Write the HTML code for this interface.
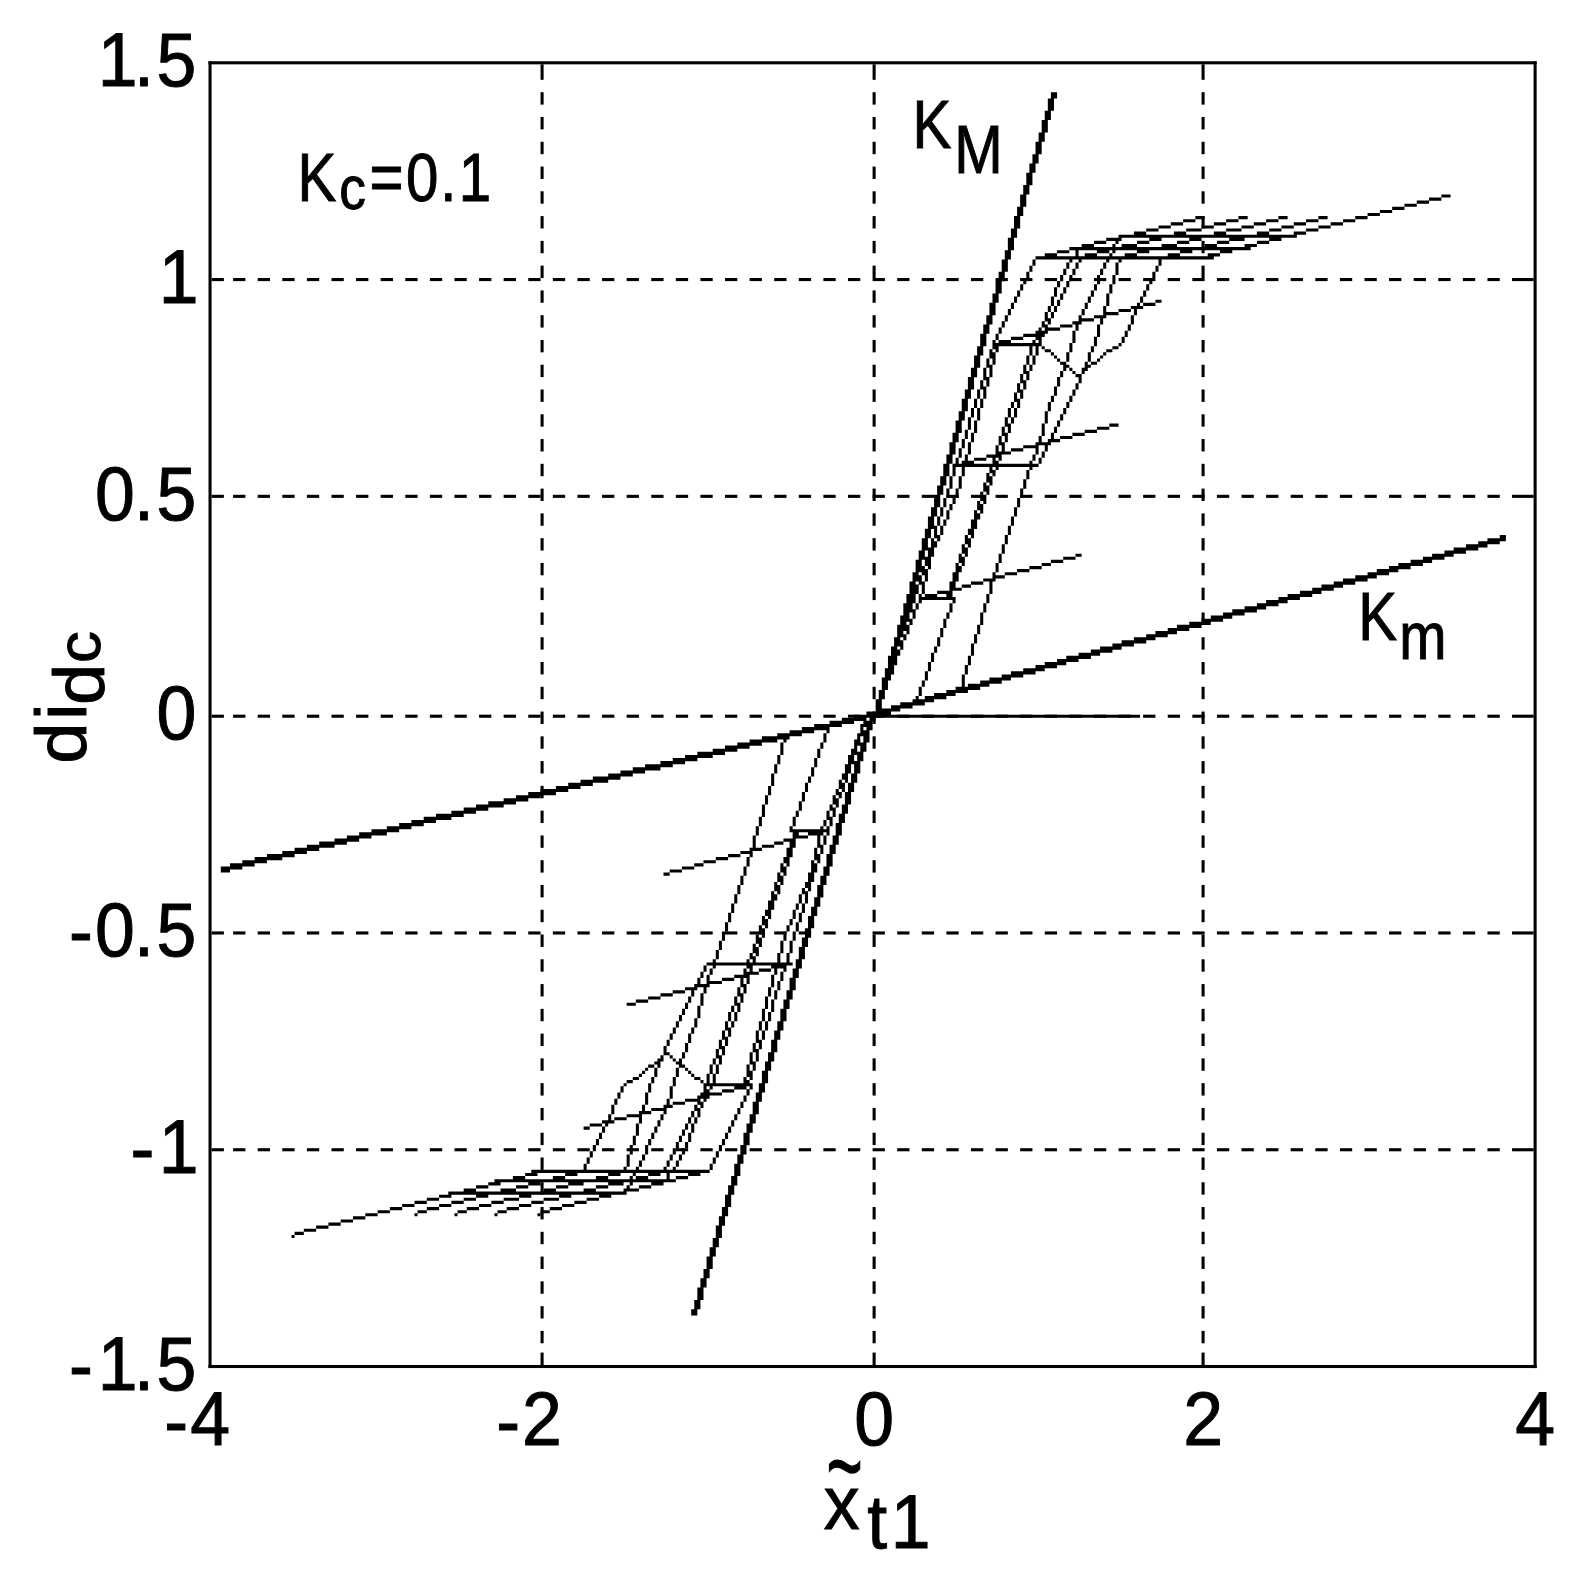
<!DOCTYPE html>
<html><head><meta charset="utf-8"><title></title>
<style>
html,body{margin:0;padding:0;background:#fff;}
svg{display:block;}
text{font-family:"Liberation Sans",sans-serif;fill:#000;stroke:#000;stroke-width:1px;}
</style></head><body>
<svg width="1581" height="1580" viewBox="0 0 1581 1580">
<rect x="0" y="0" width="1581" height="1580" fill="#fff"/>

<g id="plot">
<g id="grid" fill="#000" stroke="none">
<rect x="540.55" y="64.35" width="3.07" height="15.48"/>
<rect x="540.55" y="92.22" width="3.07" height="12.39"/>
<rect x="540.55" y="116.99" width="3.07" height="12.39"/>
<rect x="540.55" y="141.77" width="3.07" height="12.39"/>
<rect x="540.55" y="166.54" width="3.07" height="12.39"/>
<rect x="540.55" y="191.31" width="3.07" height="12.39"/>
<rect x="540.55" y="216.09" width="3.07" height="12.39"/>
<rect x="540.55" y="240.86" width="3.07" height="12.39"/>
<rect x="540.55" y="265.63" width="3.07" height="12.39"/>
<rect x="540.55" y="290.41" width="3.07" height="12.39"/>
<rect x="540.55" y="315.18" width="3.07" height="12.39"/>
<rect x="540.55" y="339.95" width="3.07" height="12.39"/>
<rect x="540.55" y="364.73" width="3.07" height="12.39"/>
<rect x="540.55" y="389.50" width="3.07" height="12.39"/>
<rect x="540.55" y="414.28" width="3.07" height="12.39"/>
<rect x="540.55" y="439.05" width="3.07" height="12.39"/>
<rect x="540.55" y="463.82" width="3.07" height="12.39"/>
<rect x="540.55" y="488.60" width="3.07" height="12.39"/>
<rect x="540.55" y="513.37" width="3.07" height="12.39"/>
<rect x="540.55" y="538.14" width="3.07" height="12.39"/>
<rect x="540.55" y="562.92" width="3.07" height="12.39"/>
<rect x="540.55" y="587.69" width="3.07" height="12.39"/>
<rect x="540.55" y="612.46" width="3.07" height="12.39"/>
<rect x="540.55" y="637.24" width="3.07" height="12.39"/>
<rect x="540.55" y="662.01" width="3.07" height="12.39"/>
<rect x="540.55" y="686.79" width="3.07" height="12.39"/>
<rect x="540.55" y="711.56" width="3.07" height="12.39"/>
<rect x="540.55" y="736.33" width="3.07" height="12.39"/>
<rect x="540.55" y="761.11" width="3.07" height="12.39"/>
<rect x="540.55" y="785.88" width="3.07" height="12.39"/>
<rect x="540.55" y="810.65" width="3.07" height="12.39"/>
<rect x="540.55" y="835.43" width="3.07" height="12.39"/>
<rect x="540.55" y="860.20" width="3.07" height="12.39"/>
<rect x="540.55" y="884.97" width="3.07" height="12.39"/>
<rect x="540.55" y="909.75" width="3.07" height="12.39"/>
<rect x="540.55" y="934.52" width="3.07" height="12.39"/>
<rect x="540.55" y="959.29" width="3.07" height="12.39"/>
<rect x="540.55" y="984.07" width="3.07" height="12.39"/>
<rect x="540.55" y="1008.84" width="3.07" height="12.39"/>
<rect x="540.55" y="1033.62" width="3.07" height="12.39"/>
<rect x="540.55" y="1058.39" width="3.07" height="12.39"/>
<rect x="540.55" y="1083.16" width="3.07" height="12.39"/>
<rect x="540.55" y="1107.94" width="3.07" height="12.39"/>
<rect x="540.55" y="1132.71" width="3.07" height="12.39"/>
<rect x="540.55" y="1157.48" width="3.07" height="12.39"/>
<rect x="540.55" y="1182.26" width="3.07" height="12.39"/>
<rect x="540.55" y="1207.03" width="3.07" height="12.39"/>
<rect x="540.55" y="1231.80" width="3.07" height="12.39"/>
<rect x="540.55" y="1256.58" width="3.07" height="12.39"/>
<rect x="540.55" y="1281.35" width="3.07" height="12.39"/>
<rect x="540.55" y="1306.13" width="3.07" height="12.39"/>
<rect x="540.55" y="1330.90" width="3.07" height="12.39"/>
<rect x="540.55" y="1352.58" width="3.07" height="12.39"/>
<rect x="872.58" y="64.35" width="3.07" height="15.48"/>
<rect x="872.58" y="92.22" width="3.07" height="12.39"/>
<rect x="872.58" y="116.99" width="3.07" height="12.39"/>
<rect x="872.58" y="141.77" width="3.07" height="12.39"/>
<rect x="872.58" y="166.54" width="3.07" height="12.39"/>
<rect x="872.58" y="191.31" width="3.07" height="12.39"/>
<rect x="872.58" y="216.09" width="3.07" height="12.39"/>
<rect x="872.58" y="240.86" width="3.07" height="12.39"/>
<rect x="872.58" y="265.63" width="3.07" height="12.39"/>
<rect x="872.58" y="290.41" width="3.07" height="12.39"/>
<rect x="872.58" y="315.18" width="3.07" height="12.39"/>
<rect x="872.58" y="339.95" width="3.07" height="12.39"/>
<rect x="872.58" y="364.73" width="3.07" height="12.39"/>
<rect x="872.58" y="389.50" width="3.07" height="12.39"/>
<rect x="872.58" y="414.28" width="3.07" height="12.39"/>
<rect x="872.58" y="439.05" width="3.07" height="12.39"/>
<rect x="872.58" y="463.82" width="3.07" height="12.39"/>
<rect x="872.58" y="488.60" width="3.07" height="12.39"/>
<rect x="872.58" y="513.37" width="3.07" height="12.39"/>
<rect x="872.58" y="538.14" width="3.07" height="12.39"/>
<rect x="872.58" y="562.92" width="3.07" height="12.39"/>
<rect x="872.58" y="587.69" width="3.07" height="12.39"/>
<rect x="872.58" y="612.46" width="3.07" height="12.39"/>
<rect x="872.58" y="637.24" width="3.07" height="12.39"/>
<rect x="872.58" y="662.01" width="3.07" height="12.39"/>
<rect x="872.58" y="686.79" width="3.07" height="12.39"/>
<rect x="872.58" y="711.56" width="3.07" height="12.39"/>
<rect x="872.58" y="736.33" width="3.07" height="12.39"/>
<rect x="872.58" y="761.11" width="3.07" height="12.39"/>
<rect x="872.58" y="785.88" width="3.07" height="12.39"/>
<rect x="872.58" y="810.65" width="3.07" height="12.39"/>
<rect x="872.58" y="835.43" width="3.07" height="12.39"/>
<rect x="872.58" y="860.20" width="3.07" height="12.39"/>
<rect x="872.58" y="884.97" width="3.07" height="12.39"/>
<rect x="872.58" y="909.75" width="3.07" height="12.39"/>
<rect x="872.58" y="934.52" width="3.07" height="12.39"/>
<rect x="872.58" y="959.29" width="3.07" height="12.39"/>
<rect x="872.58" y="984.07" width="3.07" height="12.39"/>
<rect x="872.58" y="1008.84" width="3.07" height="12.39"/>
<rect x="872.58" y="1033.62" width="3.07" height="12.39"/>
<rect x="872.58" y="1058.39" width="3.07" height="12.39"/>
<rect x="872.58" y="1083.16" width="3.07" height="12.39"/>
<rect x="872.58" y="1107.94" width="3.07" height="12.39"/>
<rect x="872.58" y="1132.71" width="3.07" height="12.39"/>
<rect x="872.58" y="1157.48" width="3.07" height="12.39"/>
<rect x="872.58" y="1182.26" width="3.07" height="12.39"/>
<rect x="872.58" y="1207.03" width="3.07" height="12.39"/>
<rect x="872.58" y="1231.80" width="3.07" height="12.39"/>
<rect x="872.58" y="1256.58" width="3.07" height="12.39"/>
<rect x="872.58" y="1281.35" width="3.07" height="12.39"/>
<rect x="872.58" y="1306.13" width="3.07" height="12.39"/>
<rect x="872.58" y="1330.90" width="3.07" height="12.39"/>
<rect x="872.58" y="1352.58" width="3.07" height="12.39"/>
<rect x="1201.54" y="64.35" width="3.07" height="15.48"/>
<rect x="1201.54" y="92.22" width="3.07" height="12.39"/>
<rect x="1201.54" y="116.99" width="3.07" height="12.39"/>
<rect x="1201.54" y="141.77" width="3.07" height="12.39"/>
<rect x="1201.54" y="166.54" width="3.07" height="12.39"/>
<rect x="1201.54" y="191.31" width="3.07" height="12.39"/>
<rect x="1201.54" y="216.09" width="3.07" height="12.39"/>
<rect x="1201.54" y="240.86" width="3.07" height="12.39"/>
<rect x="1201.54" y="265.63" width="3.07" height="12.39"/>
<rect x="1201.54" y="290.41" width="3.07" height="12.39"/>
<rect x="1201.54" y="315.18" width="3.07" height="12.39"/>
<rect x="1201.54" y="339.95" width="3.07" height="12.39"/>
<rect x="1201.54" y="364.73" width="3.07" height="12.39"/>
<rect x="1201.54" y="389.50" width="3.07" height="12.39"/>
<rect x="1201.54" y="414.28" width="3.07" height="12.39"/>
<rect x="1201.54" y="439.05" width="3.07" height="12.39"/>
<rect x="1201.54" y="463.82" width="3.07" height="12.39"/>
<rect x="1201.54" y="488.60" width="3.07" height="12.39"/>
<rect x="1201.54" y="513.37" width="3.07" height="12.39"/>
<rect x="1201.54" y="538.14" width="3.07" height="12.39"/>
<rect x="1201.54" y="562.92" width="3.07" height="12.39"/>
<rect x="1201.54" y="587.69" width="3.07" height="12.39"/>
<rect x="1201.54" y="612.46" width="3.07" height="12.39"/>
<rect x="1201.54" y="637.24" width="3.07" height="12.39"/>
<rect x="1201.54" y="662.01" width="3.07" height="12.39"/>
<rect x="1201.54" y="686.79" width="3.07" height="12.39"/>
<rect x="1201.54" y="711.56" width="3.07" height="12.39"/>
<rect x="1201.54" y="736.33" width="3.07" height="12.39"/>
<rect x="1201.54" y="761.11" width="3.07" height="12.39"/>
<rect x="1201.54" y="785.88" width="3.07" height="12.39"/>
<rect x="1201.54" y="810.65" width="3.07" height="12.39"/>
<rect x="1201.54" y="835.43" width="3.07" height="12.39"/>
<rect x="1201.54" y="860.20" width="3.07" height="12.39"/>
<rect x="1201.54" y="884.97" width="3.07" height="12.39"/>
<rect x="1201.54" y="909.75" width="3.07" height="12.39"/>
<rect x="1201.54" y="934.52" width="3.07" height="12.39"/>
<rect x="1201.54" y="959.29" width="3.07" height="12.39"/>
<rect x="1201.54" y="984.07" width="3.07" height="12.39"/>
<rect x="1201.54" y="1008.84" width="3.07" height="12.39"/>
<rect x="1201.54" y="1033.62" width="3.07" height="12.39"/>
<rect x="1201.54" y="1058.39" width="3.07" height="12.39"/>
<rect x="1201.54" y="1083.16" width="3.07" height="12.39"/>
<rect x="1201.54" y="1107.94" width="3.07" height="12.39"/>
<rect x="1201.54" y="1132.71" width="3.07" height="12.39"/>
<rect x="1201.54" y="1157.48" width="3.07" height="12.39"/>
<rect x="1201.54" y="1182.26" width="3.07" height="12.39"/>
<rect x="1201.54" y="1207.03" width="3.07" height="12.39"/>
<rect x="1201.54" y="1231.80" width="3.07" height="12.39"/>
<rect x="1201.54" y="1256.58" width="3.07" height="12.39"/>
<rect x="1201.54" y="1281.35" width="3.07" height="12.39"/>
<rect x="1201.54" y="1306.13" width="3.07" height="12.39"/>
<rect x="1201.54" y="1330.90" width="3.07" height="12.39"/>
<rect x="1201.54" y="1352.58" width="3.07" height="12.39"/>
<rect x="211.59" y="278.02" width="12.30" height="3.10"/>
<rect x="233.11" y="278.02" width="12.30" height="3.10"/>
<rect x="257.70" y="278.02" width="12.30" height="3.10"/>
<rect x="282.30" y="278.02" width="12.30" height="3.10"/>
<rect x="306.89" y="278.02" width="12.30" height="3.10"/>
<rect x="331.49" y="278.02" width="12.30" height="3.10"/>
<rect x="356.08" y="278.02" width="12.30" height="3.10"/>
<rect x="380.68" y="278.02" width="12.30" height="3.10"/>
<rect x="405.27" y="278.02" width="12.30" height="3.10"/>
<rect x="429.87" y="278.02" width="12.30" height="3.10"/>
<rect x="454.46" y="278.02" width="12.30" height="3.10"/>
<rect x="479.06" y="278.02" width="12.30" height="3.10"/>
<rect x="503.66" y="278.02" width="12.30" height="3.10"/>
<rect x="528.25" y="278.02" width="12.30" height="3.10"/>
<rect x="552.85" y="278.02" width="12.30" height="3.10"/>
<rect x="577.44" y="278.02" width="12.30" height="3.10"/>
<rect x="602.04" y="278.02" width="12.30" height="3.10"/>
<rect x="626.63" y="278.02" width="12.30" height="3.10"/>
<rect x="651.23" y="278.02" width="12.30" height="3.10"/>
<rect x="675.82" y="278.02" width="12.30" height="3.10"/>
<rect x="700.42" y="278.02" width="12.30" height="3.10"/>
<rect x="725.01" y="278.02" width="12.30" height="3.10"/>
<rect x="749.61" y="278.02" width="12.30" height="3.10"/>
<rect x="774.20" y="278.02" width="12.30" height="3.10"/>
<rect x="798.80" y="278.02" width="12.30" height="3.10"/>
<rect x="823.39" y="278.02" width="12.30" height="3.10"/>
<rect x="847.99" y="278.02" width="12.30" height="3.10"/>
<rect x="872.58" y="278.02" width="12.30" height="3.10"/>
<rect x="897.18" y="278.02" width="12.30" height="3.10"/>
<rect x="921.77" y="278.02" width="12.30" height="3.10"/>
<rect x="946.37" y="278.02" width="12.30" height="3.10"/>
<rect x="970.96" y="278.02" width="12.30" height="3.10"/>
<rect x="995.56" y="278.02" width="12.30" height="3.10"/>
<rect x="1020.15" y="278.02" width="12.30" height="3.10"/>
<rect x="1044.75" y="278.02" width="12.30" height="3.10"/>
<rect x="1069.34" y="278.02" width="12.30" height="3.10"/>
<rect x="1093.94" y="278.02" width="12.30" height="3.10"/>
<rect x="1118.54" y="278.02" width="12.30" height="3.10"/>
<rect x="1143.13" y="278.02" width="12.30" height="3.10"/>
<rect x="1167.73" y="278.02" width="12.30" height="3.10"/>
<rect x="1192.32" y="278.02" width="12.30" height="3.10"/>
<rect x="1216.92" y="278.02" width="12.30" height="3.10"/>
<rect x="1241.51" y="278.02" width="12.30" height="3.10"/>
<rect x="1266.11" y="278.02" width="12.30" height="3.10"/>
<rect x="1290.70" y="278.02" width="12.30" height="3.10"/>
<rect x="1315.30" y="278.02" width="12.30" height="3.10"/>
<rect x="1339.89" y="278.02" width="12.30" height="3.10"/>
<rect x="1364.49" y="278.02" width="12.30" height="3.10"/>
<rect x="1389.08" y="278.02" width="12.30" height="3.10"/>
<rect x="1413.68" y="278.02" width="12.30" height="3.10"/>
<rect x="1438.27" y="278.02" width="12.30" height="3.10"/>
<rect x="1462.87" y="278.02" width="12.30" height="3.10"/>
<rect x="1487.46" y="278.02" width="12.30" height="3.10"/>
<rect x="1512.06" y="278.02" width="21.52" height="3.10"/>
<rect x="211.59" y="494.79" width="12.30" height="3.10"/>
<rect x="233.11" y="494.79" width="12.30" height="3.10"/>
<rect x="257.70" y="494.79" width="12.30" height="3.10"/>
<rect x="282.30" y="494.79" width="12.30" height="3.10"/>
<rect x="306.89" y="494.79" width="12.30" height="3.10"/>
<rect x="331.49" y="494.79" width="12.30" height="3.10"/>
<rect x="356.08" y="494.79" width="12.30" height="3.10"/>
<rect x="380.68" y="494.79" width="12.30" height="3.10"/>
<rect x="405.27" y="494.79" width="12.30" height="3.10"/>
<rect x="429.87" y="494.79" width="12.30" height="3.10"/>
<rect x="454.46" y="494.79" width="12.30" height="3.10"/>
<rect x="479.06" y="494.79" width="12.30" height="3.10"/>
<rect x="503.66" y="494.79" width="12.30" height="3.10"/>
<rect x="528.25" y="494.79" width="12.30" height="3.10"/>
<rect x="552.85" y="494.79" width="12.30" height="3.10"/>
<rect x="577.44" y="494.79" width="12.30" height="3.10"/>
<rect x="602.04" y="494.79" width="12.30" height="3.10"/>
<rect x="626.63" y="494.79" width="12.30" height="3.10"/>
<rect x="651.23" y="494.79" width="12.30" height="3.10"/>
<rect x="675.82" y="494.79" width="12.30" height="3.10"/>
<rect x="700.42" y="494.79" width="12.30" height="3.10"/>
<rect x="725.01" y="494.79" width="12.30" height="3.10"/>
<rect x="749.61" y="494.79" width="12.30" height="3.10"/>
<rect x="774.20" y="494.79" width="12.30" height="3.10"/>
<rect x="798.80" y="494.79" width="12.30" height="3.10"/>
<rect x="823.39" y="494.79" width="12.30" height="3.10"/>
<rect x="847.99" y="494.79" width="12.30" height="3.10"/>
<rect x="872.58" y="494.79" width="12.30" height="3.10"/>
<rect x="897.18" y="494.79" width="12.30" height="3.10"/>
<rect x="921.77" y="494.79" width="12.30" height="3.10"/>
<rect x="946.37" y="494.79" width="12.30" height="3.10"/>
<rect x="970.96" y="494.79" width="12.30" height="3.10"/>
<rect x="995.56" y="494.79" width="12.30" height="3.10"/>
<rect x="1020.15" y="494.79" width="12.30" height="3.10"/>
<rect x="1044.75" y="494.79" width="12.30" height="3.10"/>
<rect x="1069.34" y="494.79" width="12.30" height="3.10"/>
<rect x="1093.94" y="494.79" width="12.30" height="3.10"/>
<rect x="1118.54" y="494.79" width="12.30" height="3.10"/>
<rect x="1143.13" y="494.79" width="12.30" height="3.10"/>
<rect x="1167.73" y="494.79" width="12.30" height="3.10"/>
<rect x="1192.32" y="494.79" width="12.30" height="3.10"/>
<rect x="1216.92" y="494.79" width="12.30" height="3.10"/>
<rect x="1241.51" y="494.79" width="12.30" height="3.10"/>
<rect x="1266.11" y="494.79" width="12.30" height="3.10"/>
<rect x="1290.70" y="494.79" width="12.30" height="3.10"/>
<rect x="1315.30" y="494.79" width="12.30" height="3.10"/>
<rect x="1339.89" y="494.79" width="12.30" height="3.10"/>
<rect x="1364.49" y="494.79" width="12.30" height="3.10"/>
<rect x="1389.08" y="494.79" width="12.30" height="3.10"/>
<rect x="1413.68" y="494.79" width="12.30" height="3.10"/>
<rect x="1438.27" y="494.79" width="12.30" height="3.10"/>
<rect x="1462.87" y="494.79" width="12.30" height="3.10"/>
<rect x="1487.46" y="494.79" width="12.30" height="3.10"/>
<rect x="1512.06" y="494.79" width="21.52" height="3.10"/>
<rect x="211.59" y="714.66" width="12.30" height="3.10"/>
<rect x="233.11" y="714.66" width="12.30" height="3.10"/>
<rect x="257.70" y="714.66" width="12.30" height="3.10"/>
<rect x="282.30" y="714.66" width="12.30" height="3.10"/>
<rect x="306.89" y="714.66" width="12.30" height="3.10"/>
<rect x="331.49" y="714.66" width="12.30" height="3.10"/>
<rect x="356.08" y="714.66" width="12.30" height="3.10"/>
<rect x="380.68" y="714.66" width="12.30" height="3.10"/>
<rect x="405.27" y="714.66" width="12.30" height="3.10"/>
<rect x="429.87" y="714.66" width="12.30" height="3.10"/>
<rect x="454.46" y="714.66" width="12.30" height="3.10"/>
<rect x="479.06" y="714.66" width="12.30" height="3.10"/>
<rect x="503.66" y="714.66" width="12.30" height="3.10"/>
<rect x="528.25" y="714.66" width="12.30" height="3.10"/>
<rect x="552.85" y="714.66" width="12.30" height="3.10"/>
<rect x="577.44" y="714.66" width="12.30" height="3.10"/>
<rect x="602.04" y="714.66" width="12.30" height="3.10"/>
<rect x="626.63" y="714.66" width="12.30" height="3.10"/>
<rect x="651.23" y="714.66" width="12.30" height="3.10"/>
<rect x="675.82" y="714.66" width="12.30" height="3.10"/>
<rect x="700.42" y="714.66" width="12.30" height="3.10"/>
<rect x="725.01" y="714.66" width="12.30" height="3.10"/>
<rect x="749.61" y="714.66" width="12.30" height="3.10"/>
<rect x="774.20" y="714.66" width="12.30" height="3.10"/>
<rect x="798.80" y="714.66" width="12.30" height="3.10"/>
<rect x="823.39" y="714.66" width="12.30" height="3.10"/>
<rect x="847.99" y="714.66" width="12.30" height="3.10"/>
<rect x="872.58" y="714.66" width="12.30" height="3.10"/>
<rect x="897.18" y="714.66" width="12.30" height="3.10"/>
<rect x="921.77" y="714.66" width="12.30" height="3.10"/>
<rect x="946.37" y="714.66" width="12.30" height="3.10"/>
<rect x="970.96" y="714.66" width="12.30" height="3.10"/>
<rect x="995.56" y="714.66" width="12.30" height="3.10"/>
<rect x="1020.15" y="714.66" width="12.30" height="3.10"/>
<rect x="1044.75" y="714.66" width="12.30" height="3.10"/>
<rect x="1069.34" y="714.66" width="12.30" height="3.10"/>
<rect x="1093.94" y="714.66" width="12.30" height="3.10"/>
<rect x="1118.54" y="714.66" width="12.30" height="3.10"/>
<rect x="1143.13" y="714.66" width="12.30" height="3.10"/>
<rect x="1167.73" y="714.66" width="12.30" height="3.10"/>
<rect x="1192.32" y="714.66" width="12.30" height="3.10"/>
<rect x="1216.92" y="714.66" width="12.30" height="3.10"/>
<rect x="1241.51" y="714.66" width="12.30" height="3.10"/>
<rect x="1266.11" y="714.66" width="12.30" height="3.10"/>
<rect x="1290.70" y="714.66" width="12.30" height="3.10"/>
<rect x="1315.30" y="714.66" width="12.30" height="3.10"/>
<rect x="1339.89" y="714.66" width="12.30" height="3.10"/>
<rect x="1364.49" y="714.66" width="12.30" height="3.10"/>
<rect x="1389.08" y="714.66" width="12.30" height="3.10"/>
<rect x="1413.68" y="714.66" width="12.30" height="3.10"/>
<rect x="1438.27" y="714.66" width="12.30" height="3.10"/>
<rect x="1462.87" y="714.66" width="12.30" height="3.10"/>
<rect x="1487.46" y="714.66" width="12.30" height="3.10"/>
<rect x="1512.06" y="714.66" width="21.52" height="3.10"/>
<rect x="211.59" y="931.42" width="12.30" height="3.10"/>
<rect x="233.11" y="931.42" width="12.30" height="3.10"/>
<rect x="257.70" y="931.42" width="12.30" height="3.10"/>
<rect x="282.30" y="931.42" width="12.30" height="3.10"/>
<rect x="306.89" y="931.42" width="12.30" height="3.10"/>
<rect x="331.49" y="931.42" width="12.30" height="3.10"/>
<rect x="356.08" y="931.42" width="12.30" height="3.10"/>
<rect x="380.68" y="931.42" width="12.30" height="3.10"/>
<rect x="405.27" y="931.42" width="12.30" height="3.10"/>
<rect x="429.87" y="931.42" width="12.30" height="3.10"/>
<rect x="454.46" y="931.42" width="12.30" height="3.10"/>
<rect x="479.06" y="931.42" width="12.30" height="3.10"/>
<rect x="503.66" y="931.42" width="12.30" height="3.10"/>
<rect x="528.25" y="931.42" width="12.30" height="3.10"/>
<rect x="552.85" y="931.42" width="12.30" height="3.10"/>
<rect x="577.44" y="931.42" width="12.30" height="3.10"/>
<rect x="602.04" y="931.42" width="12.30" height="3.10"/>
<rect x="626.63" y="931.42" width="12.30" height="3.10"/>
<rect x="651.23" y="931.42" width="12.30" height="3.10"/>
<rect x="675.82" y="931.42" width="12.30" height="3.10"/>
<rect x="700.42" y="931.42" width="12.30" height="3.10"/>
<rect x="725.01" y="931.42" width="12.30" height="3.10"/>
<rect x="749.61" y="931.42" width="12.30" height="3.10"/>
<rect x="774.20" y="931.42" width="12.30" height="3.10"/>
<rect x="798.80" y="931.42" width="12.30" height="3.10"/>
<rect x="823.39" y="931.42" width="12.30" height="3.10"/>
<rect x="847.99" y="931.42" width="12.30" height="3.10"/>
<rect x="872.58" y="931.42" width="12.30" height="3.10"/>
<rect x="897.18" y="931.42" width="12.30" height="3.10"/>
<rect x="921.77" y="931.42" width="12.30" height="3.10"/>
<rect x="946.37" y="931.42" width="12.30" height="3.10"/>
<rect x="970.96" y="931.42" width="12.30" height="3.10"/>
<rect x="995.56" y="931.42" width="12.30" height="3.10"/>
<rect x="1020.15" y="931.42" width="12.30" height="3.10"/>
<rect x="1044.75" y="931.42" width="12.30" height="3.10"/>
<rect x="1069.34" y="931.42" width="12.30" height="3.10"/>
<rect x="1093.94" y="931.42" width="12.30" height="3.10"/>
<rect x="1118.54" y="931.42" width="12.30" height="3.10"/>
<rect x="1143.13" y="931.42" width="12.30" height="3.10"/>
<rect x="1167.73" y="931.42" width="12.30" height="3.10"/>
<rect x="1192.32" y="931.42" width="12.30" height="3.10"/>
<rect x="1216.92" y="931.42" width="12.30" height="3.10"/>
<rect x="1241.51" y="931.42" width="12.30" height="3.10"/>
<rect x="1266.11" y="931.42" width="12.30" height="3.10"/>
<rect x="1290.70" y="931.42" width="12.30" height="3.10"/>
<rect x="1315.30" y="931.42" width="12.30" height="3.10"/>
<rect x="1339.89" y="931.42" width="12.30" height="3.10"/>
<rect x="1364.49" y="931.42" width="12.30" height="3.10"/>
<rect x="1389.08" y="931.42" width="12.30" height="3.10"/>
<rect x="1413.68" y="931.42" width="12.30" height="3.10"/>
<rect x="1438.27" y="931.42" width="12.30" height="3.10"/>
<rect x="1462.87" y="931.42" width="12.30" height="3.10"/>
<rect x="1487.46" y="931.42" width="12.30" height="3.10"/>
<rect x="1512.06" y="931.42" width="21.52" height="3.10"/>
<rect x="211.59" y="1148.19" width="12.30" height="3.10"/>
<rect x="233.11" y="1148.19" width="12.30" height="3.10"/>
<rect x="257.70" y="1148.19" width="12.30" height="3.10"/>
<rect x="282.30" y="1148.19" width="12.30" height="3.10"/>
<rect x="306.89" y="1148.19" width="12.30" height="3.10"/>
<rect x="331.49" y="1148.19" width="12.30" height="3.10"/>
<rect x="356.08" y="1148.19" width="12.30" height="3.10"/>
<rect x="380.68" y="1148.19" width="12.30" height="3.10"/>
<rect x="405.27" y="1148.19" width="12.30" height="3.10"/>
<rect x="429.87" y="1148.19" width="12.30" height="3.10"/>
<rect x="454.46" y="1148.19" width="12.30" height="3.10"/>
<rect x="479.06" y="1148.19" width="12.30" height="3.10"/>
<rect x="503.66" y="1148.19" width="12.30" height="3.10"/>
<rect x="528.25" y="1148.19" width="12.30" height="3.10"/>
<rect x="552.85" y="1148.19" width="12.30" height="3.10"/>
<rect x="577.44" y="1148.19" width="12.30" height="3.10"/>
<rect x="602.04" y="1148.19" width="12.30" height="3.10"/>
<rect x="626.63" y="1148.19" width="12.30" height="3.10"/>
<rect x="651.23" y="1148.19" width="12.30" height="3.10"/>
<rect x="675.82" y="1148.19" width="12.30" height="3.10"/>
<rect x="700.42" y="1148.19" width="12.30" height="3.10"/>
<rect x="725.01" y="1148.19" width="12.30" height="3.10"/>
<rect x="749.61" y="1148.19" width="12.30" height="3.10"/>
<rect x="774.20" y="1148.19" width="12.30" height="3.10"/>
<rect x="798.80" y="1148.19" width="12.30" height="3.10"/>
<rect x="823.39" y="1148.19" width="12.30" height="3.10"/>
<rect x="847.99" y="1148.19" width="12.30" height="3.10"/>
<rect x="872.58" y="1148.19" width="12.30" height="3.10"/>
<rect x="897.18" y="1148.19" width="12.30" height="3.10"/>
<rect x="921.77" y="1148.19" width="12.30" height="3.10"/>
<rect x="946.37" y="1148.19" width="12.30" height="3.10"/>
<rect x="970.96" y="1148.19" width="12.30" height="3.10"/>
<rect x="995.56" y="1148.19" width="12.30" height="3.10"/>
<rect x="1020.15" y="1148.19" width="12.30" height="3.10"/>
<rect x="1044.75" y="1148.19" width="12.30" height="3.10"/>
<rect x="1069.34" y="1148.19" width="12.30" height="3.10"/>
<rect x="1093.94" y="1148.19" width="12.30" height="3.10"/>
<rect x="1118.54" y="1148.19" width="12.30" height="3.10"/>
<rect x="1143.13" y="1148.19" width="12.30" height="3.10"/>
<rect x="1167.73" y="1148.19" width="12.30" height="3.10"/>
<rect x="1192.32" y="1148.19" width="12.30" height="3.10"/>
<rect x="1216.92" y="1148.19" width="12.30" height="3.10"/>
<rect x="1241.51" y="1148.19" width="12.30" height="3.10"/>
<rect x="1266.11" y="1148.19" width="12.30" height="3.10"/>
<rect x="1290.70" y="1148.19" width="12.30" height="3.10"/>
<rect x="1315.30" y="1148.19" width="12.30" height="3.10"/>
<rect x="1339.89" y="1148.19" width="12.30" height="3.10"/>
<rect x="1364.49" y="1148.19" width="12.30" height="3.10"/>
<rect x="1389.08" y="1148.19" width="12.30" height="3.10"/>
<rect x="1413.68" y="1148.19" width="12.30" height="3.10"/>
<rect x="1438.27" y="1148.19" width="12.30" height="3.10"/>
<rect x="1462.87" y="1148.19" width="12.30" height="3.10"/>
<rect x="1487.46" y="1148.19" width="12.30" height="3.10"/>
<rect x="1512.06" y="1148.19" width="21.52" height="3.10"/>
</g>
<g id="axes" fill="#000" stroke="none">
<rect x="208.51" y="61.25" width="1328.14" height="3.10"/>
<rect x="208.51" y="1364.96" width="1328.14" height="3.10"/>
<rect x="208.51" y="61.25" width="3.07" height="1306.81"/>
<rect x="1533.58" y="61.25" width="3.07" height="1306.81"/>
</g>
<path id="curves" fill="#000" stroke="none" d="M1050.90 92.22h6.15v3.13h-6.15zM1050.90 95.32h6.15v3.13h-6.15zM1047.82 98.41h6.15v3.13h-6.15zM1047.82 101.51h6.15v3.13h-6.15zM1047.82 104.61h6.15v3.13h-6.15zM1047.82 107.70h6.15v3.13h-6.15zM1044.75 110.80h6.15v3.13h-6.15zM1044.75 113.90h6.15v3.13h-6.15zM1044.75 116.99h6.15v3.13h-6.15zM1041.68 120.09h6.15v3.13h-6.15zM1041.68 123.19h6.15v3.13h-6.15zM1041.68 126.28h6.15v3.13h-6.15zM1041.68 129.38h6.15v3.13h-6.15zM1038.60 132.48h6.15v3.13h-6.15zM1038.60 135.57h6.15v3.13h-6.15zM1038.60 138.67h6.15v3.13h-6.15zM1035.53 141.77h6.15v3.13h-6.15zM1035.53 144.86h6.15v3.13h-6.15zM1035.53 147.96h6.15v3.13h-6.15zM1035.53 151.06h6.15v3.13h-6.15zM1032.45 154.15h6.15v3.13h-6.15zM1032.45 157.25h6.15v3.13h-6.15zM1032.45 160.35h6.15v3.13h-6.15zM1029.38 163.44h6.15v3.13h-6.15zM1029.38 166.54h6.15v3.13h-6.15zM1029.38 169.64h6.15v3.13h-6.15zM1026.30 172.73h6.15v3.13h-6.15zM1026.30 175.83h6.15v3.13h-6.15zM1026.30 178.93h6.15v3.13h-6.15zM1026.30 182.02h6.15v3.13h-6.15zM1023.23 185.12h6.15v3.13h-6.15zM1023.23 188.22h6.15v3.13h-6.15zM1023.23 191.31h6.15v3.13h-6.15zM1020.15 194.41h6.15v3.13h-6.15zM1441.35 194.41h9.22v3.13h-9.22zM1020.15 197.51h6.15v3.13h-6.15zM1429.05 197.51h12.30v3.13h-12.30zM1020.15 200.60h6.15v3.13h-6.15zM1416.75 200.60h12.30v3.13h-12.30zM1020.15 203.70h6.15v3.13h-6.15zM1404.45 203.70h12.30v3.13h-12.30zM1017.08 206.80h6.15v3.13h-6.15zM1392.16 206.80h12.30v3.13h-12.30zM1017.08 209.89h6.15v3.13h-6.15zM1379.86 209.89h12.30v3.13h-12.30zM1017.08 212.99h6.15v3.13h-6.15zM1367.56 212.99h12.30v3.13h-12.30zM1014.01 216.09h6.15v3.13h-6.15zM1195.40 216.09h9.22v3.13h-9.22zM1238.44 216.09h9.22v3.13h-9.22zM1278.40 216.09h9.22v3.13h-9.22zM1318.37 216.09h9.22v3.13h-9.22zM1355.26 216.09h12.30v3.13h-12.30zM1014.01 219.18h6.15v3.13h-6.15zM1183.10 219.18h12.30v3.13h-12.30zM1226.14 219.18h12.30v3.13h-12.30zM1266.11 219.18h12.30v3.13h-12.30zM1306.07 219.18h12.30v3.13h-12.30zM1342.97 219.18h12.30v3.13h-12.30zM1014.01 222.28h6.15v3.13h-6.15zM1170.80 222.28h12.30v3.13h-12.30zM1213.84 222.28h12.30v3.13h-12.30zM1253.81 222.28h12.30v3.13h-12.30zM1293.78 222.28h12.30v3.13h-12.30zM1330.67 222.28h12.30v3.13h-12.30zM1014.01 225.38h6.15v3.13h-6.15zM1158.50 225.38h12.30v3.13h-12.30zM1201.54 225.38h12.30v3.13h-12.30zM1241.51 225.38h12.30v3.13h-12.30zM1281.48 225.38h12.30v3.13h-12.30zM1318.37 225.38h12.30v3.13h-12.30zM1010.93 228.47h6.15v3.13h-6.15zM1146.20 228.47h12.30v3.13h-12.30zM1186.17 228.47h15.37v3.13h-15.37zM1226.14 228.47h15.37v3.13h-15.37zM1269.18 228.47h12.30v3.13h-12.30zM1306.07 228.47h12.30v3.13h-12.30zM1010.93 231.57h6.15v3.13h-6.15zM1133.91 231.57h12.30v3.13h-12.30zM1173.87 231.57h12.30v3.13h-12.30zM1213.84 231.57h12.30v3.13h-12.30zM1256.88 231.57h12.30v3.13h-12.30zM1293.78 231.57h12.30v3.13h-12.30zM1010.93 234.67h6.15v3.13h-6.15zM1118.54 234.67h178.32v3.13h-178.32zM1007.86 237.76h6.15v3.13h-6.15zM1106.24 237.76h15.37v3.13h-15.37zM1149.28 237.76h12.30v3.13h-12.30zM1189.25 237.76h12.30v3.13h-12.30zM1229.21 237.76h15.37v3.13h-15.37zM1269.18 237.76h12.30v3.13h-12.30zM1007.86 240.86h6.15v3.13h-6.15zM1093.94 240.86h12.30v3.13h-12.30zM1115.46 240.86h3.07v3.13h-3.07zM1136.98 240.86h12.30v3.13h-12.30zM1176.95 240.86h12.30v3.13h-12.30zM1216.92 240.86h12.30v3.13h-12.30zM1256.88 240.86h12.30v3.13h-12.30zM1007.86 243.96h6.15v3.13h-6.15zM1081.64 243.96h12.30v3.13h-12.30zM1112.39 243.96h3.07v3.13h-3.07zM1121.61 243.96h15.37v3.13h-15.37zM1161.58 243.96h15.37v3.13h-15.37zM1204.62 243.96h12.30v3.13h-12.30zM1244.59 243.96h12.30v3.13h-12.30zM1007.86 247.05h6.15v3.13h-6.15zM1069.34 247.05h181.39v3.13h-181.39zM1004.78 250.15h6.15v3.13h-6.15zM1057.05 250.15h12.30v3.13h-12.30zM1075.49 250.15h3.07v3.13h-3.07zM1097.01 250.15h12.30v3.13h-12.30zM1112.39 250.15h3.07v3.13h-3.07zM1136.98 250.15h12.30v3.13h-12.30zM1180.02 250.15h12.30v3.13h-12.30zM1219.99 250.15h12.30v3.13h-12.30zM1004.78 253.25h6.15v3.13h-6.15zM1044.75 253.25h12.30v3.13h-12.30zM1075.49 253.25h3.07v3.13h-3.07zM1084.72 253.25h12.30v3.13h-12.30zM1109.31 253.25h3.07v3.13h-3.07zM1124.68 253.25h12.30v3.13h-12.30zM1167.73 253.25h12.30v3.13h-12.30zM1207.69 253.25h12.30v3.13h-12.30zM1004.78 256.34h6.15v3.13h-6.15zM1035.53 256.34h178.32v3.13h-178.32zM1001.71 259.44h6.15v3.13h-6.15zM1032.45 259.44h3.07v3.13h-3.07zM1069.34 259.44h3.07v3.13h-3.07zM1078.57 259.44h3.07v3.13h-3.07zM1106.24 259.44h3.07v3.13h-3.07zM1118.54 259.44h3.07v3.13h-3.07zM1158.50 259.44h3.07v3.13h-3.07zM1001.71 262.54h6.15v3.13h-6.15zM1032.45 262.54h3.07v3.13h-3.07zM1066.27 262.54h3.07v3.13h-3.07zM1075.49 262.54h3.07v3.13h-3.07zM1103.16 262.54h3.07v3.13h-3.07zM1115.46 262.54h3.07v3.13h-3.07zM1158.50 262.54h3.07v3.13h-3.07zM1001.71 265.63h6.15v3.13h-6.15zM1029.38 265.63h3.07v3.13h-3.07zM1066.27 265.63h3.07v3.13h-3.07zM1075.49 265.63h3.07v3.13h-3.07zM1103.16 265.63h3.07v3.13h-3.07zM1115.46 265.63h3.07v3.13h-3.07zM1155.43 265.63h3.07v3.13h-3.07zM1001.71 268.73h6.15v3.13h-6.15zM1029.38 268.73h3.07v3.13h-3.07zM1063.20 268.73h3.07v3.13h-3.07zM1072.42 268.73h3.07v3.13h-3.07zM1100.09 268.73h3.07v3.13h-3.07zM1115.46 268.73h3.07v3.13h-3.07zM1155.43 268.73h3.07v3.13h-3.07zM998.63 271.83h6.15v3.13h-6.15zM1026.30 271.83h3.07v3.13h-3.07zM1063.20 271.83h3.07v3.13h-3.07zM1072.42 271.83h3.07v3.13h-3.07zM1100.09 271.83h3.07v3.13h-3.07zM1115.46 271.83h3.07v3.13h-3.07zM1152.35 271.83h3.07v3.13h-3.07zM998.63 274.92h6.15v3.13h-6.15zM1026.30 274.92h3.07v3.13h-3.07zM1060.12 274.92h3.07v3.13h-3.07zM1069.34 274.92h3.07v3.13h-3.07zM1097.01 274.92h3.07v3.13h-3.07zM1112.39 274.92h3.07v3.13h-3.07zM1152.35 274.92h3.07v3.13h-3.07zM998.63 278.02h6.15v3.13h-6.15zM1023.23 278.02h3.07v3.13h-3.07zM1060.12 278.02h3.07v3.13h-3.07zM1069.34 278.02h3.07v3.13h-3.07zM1097.01 278.02h3.07v3.13h-3.07zM1112.39 278.02h3.07v3.13h-3.07zM1149.28 278.02h3.07v3.13h-3.07zM995.56 281.12h6.15v3.13h-6.15zM1023.23 281.12h3.07v3.13h-3.07zM1057.05 281.12h3.07v3.13h-3.07zM1066.27 281.12h3.07v3.13h-3.07zM1097.01 281.12h3.07v3.13h-3.07zM1112.39 281.12h3.07v3.13h-3.07zM1149.28 281.12h3.07v3.13h-3.07zM995.56 284.21h6.15v3.13h-6.15zM1020.15 284.21h3.07v3.13h-3.07zM1057.05 284.21h3.07v3.13h-3.07zM1066.27 284.21h3.07v3.13h-3.07zM1093.94 284.21h3.07v3.13h-3.07zM1109.31 284.21h3.07v3.13h-3.07zM1146.20 284.21h3.07v3.13h-3.07zM995.56 287.31h6.15v3.13h-6.15zM1020.15 287.31h3.07v3.13h-3.07zM1053.97 287.31h3.07v3.13h-3.07zM1063.20 287.31h3.07v3.13h-3.07zM1093.94 287.31h3.07v3.13h-3.07zM1109.31 287.31h3.07v3.13h-3.07zM1146.20 287.31h3.07v3.13h-3.07zM995.56 290.41h6.15v3.13h-6.15zM1017.08 290.41h3.07v3.13h-3.07zM1053.97 290.41h3.07v3.13h-3.07zM1063.20 290.41h3.07v3.13h-3.07zM1090.87 290.41h3.07v3.13h-3.07zM1109.31 290.41h3.07v3.13h-3.07zM1143.13 290.41h3.07v3.13h-3.07zM992.48 293.50h6.15v3.13h-6.15zM1017.08 293.50h3.07v3.13h-3.07zM1053.97 293.50h3.07v3.13h-3.07zM1060.12 293.50h3.07v3.13h-3.07zM1090.87 293.50h3.07v3.13h-3.07zM1106.24 293.50h3.07v3.13h-3.07zM1143.13 293.50h3.07v3.13h-3.07zM992.48 296.60h6.15v3.13h-6.15zM1014.01 296.60h3.07v3.13h-3.07zM1050.90 296.60h3.07v3.13h-3.07zM1060.12 296.60h3.07v3.13h-3.07zM1087.79 296.60h3.07v3.13h-3.07zM1106.24 296.60h3.07v3.13h-3.07zM1140.06 296.60h3.07v3.13h-3.07zM992.48 299.70h6.15v3.13h-6.15zM1014.01 299.70h3.07v3.13h-3.07zM1050.90 299.70h3.07v3.13h-3.07zM1057.05 299.70h3.07v3.13h-3.07zM1087.79 299.70h3.07v3.13h-3.07zM1106.24 299.70h3.07v3.13h-3.07zM1140.06 299.70h3.07v3.13h-3.07zM1155.43 299.70h6.15v3.13h-6.15zM989.41 302.79h6.15v3.13h-6.15zM1010.93 302.79h3.07v3.13h-3.07zM1050.90 302.79h3.07v3.13h-3.07zM1057.05 302.79h3.07v3.13h-3.07zM1084.72 302.79h3.07v3.13h-3.07zM1106.24 302.79h3.07v3.13h-3.07zM1136.98 302.79h3.07v3.13h-3.07zM1143.13 302.79h12.30v3.13h-12.30zM989.41 305.89h6.15v3.13h-6.15zM1010.93 305.89h3.07v3.13h-3.07zM1047.82 305.89h3.07v3.13h-3.07zM1053.97 305.89h3.07v3.13h-3.07zM1084.72 305.89h3.07v3.13h-3.07zM1103.16 305.89h3.07v3.13h-3.07zM1130.83 305.89h12.30v3.13h-12.30zM989.41 308.99h6.15v3.13h-6.15zM1007.86 308.99h3.07v3.13h-3.07zM1047.82 308.99h3.07v3.13h-3.07zM1053.97 308.99h3.07v3.13h-3.07zM1081.64 308.99h3.07v3.13h-3.07zM1103.16 308.99h3.07v3.13h-3.07zM1118.54 308.99h12.30v3.13h-12.30zM1133.91 308.99h3.07v3.13h-3.07zM989.41 312.08h6.15v3.13h-6.15zM1007.86 312.08h3.07v3.13h-3.07zM1044.75 312.08h3.07v3.13h-3.07zM1050.90 312.08h3.07v3.13h-3.07zM1081.64 312.08h3.07v3.13h-3.07zM1103.16 312.08h15.37v3.13h-15.37zM1133.91 312.08h3.07v3.13h-3.07zM986.34 315.18h6.15v3.13h-6.15zM1004.78 315.18h3.07v3.13h-3.07zM1044.75 315.18h3.07v3.13h-3.07zM1050.90 315.18h3.07v3.13h-3.07zM1078.57 315.18h3.07v3.13h-3.07zM1093.94 315.18h12.30v3.13h-12.30zM1130.83 315.18h3.07v3.13h-3.07zM986.34 318.28h6.15v3.13h-6.15zM1004.78 318.28h3.07v3.13h-3.07zM1044.75 318.28h6.15v3.13h-6.15zM1078.57 318.28h15.37v3.13h-15.37zM1100.09 318.28h3.07v3.13h-3.07zM1130.83 318.28h3.07v3.13h-3.07zM986.34 321.37h6.15v3.13h-6.15zM1001.71 321.37h3.07v3.13h-3.07zM1041.68 321.37h3.07v3.13h-3.07zM1047.82 321.37h3.07v3.13h-3.07zM1072.42 321.37h9.22v3.13h-9.22zM1100.09 321.37h3.07v3.13h-3.07zM1130.83 321.37h3.07v3.13h-3.07zM983.26 324.47h6.15v3.13h-6.15zM1001.71 324.47h3.07v3.13h-3.07zM1041.68 324.47h6.15v3.13h-6.15zM1060.12 324.47h12.30v3.13h-12.30zM1075.49 324.47h3.07v3.13h-3.07zM1097.01 324.47h3.07v3.13h-3.07zM1127.76 324.47h3.07v3.13h-3.07zM983.26 327.57h6.15v3.13h-6.15zM998.63 327.57h3.07v3.13h-3.07zM1038.60 327.57h3.07v3.13h-3.07zM1044.75 327.57h15.37v3.13h-15.37zM1075.49 327.57h3.07v3.13h-3.07zM1097.01 327.57h3.07v3.13h-3.07zM1127.76 327.57h3.07v3.13h-3.07zM983.26 330.66h6.15v3.13h-6.15zM998.63 330.66h3.07v3.13h-3.07zM1035.53 330.66h12.30v3.13h-12.30zM1072.42 330.66h3.07v3.13h-3.07zM1097.01 330.66h3.07v3.13h-3.07zM1124.68 330.66h3.07v3.13h-3.07zM980.19 333.76h6.15v3.13h-6.15zM995.56 333.76h3.07v3.13h-3.07zM1023.23 333.76h21.52v3.13h-21.52zM1072.42 333.76h3.07v3.13h-3.07zM1097.01 333.76h3.07v3.13h-3.07zM1124.68 333.76h3.07v3.13h-3.07zM980.19 336.86h6.15v3.13h-6.15zM995.56 336.86h3.07v3.13h-3.07zM1010.93 336.86h12.30v3.13h-12.30zM1035.53 336.86h6.15v3.13h-6.15zM1072.42 336.86h3.07v3.13h-3.07zM1093.94 336.86h3.07v3.13h-3.07zM1121.61 336.86h3.07v3.13h-3.07zM980.19 339.95h6.15v3.13h-6.15zM992.48 339.95h3.07v3.13h-3.07zM998.63 339.95h12.30v3.13h-12.30zM1032.45 339.95h3.07v3.13h-3.07zM1038.60 339.95h3.07v3.13h-3.07zM1072.42 339.95h3.07v3.13h-3.07zM1093.94 339.95h3.07v3.13h-3.07zM1121.61 339.95h3.07v3.13h-3.07zM980.19 343.05h6.15v3.13h-6.15zM992.48 343.05h49.19v3.13h-49.19zM1069.34 343.05h3.07v3.13h-3.07zM1093.94 343.05h3.07v3.13h-3.07zM1118.54 343.05h3.07v3.13h-3.07zM977.11 346.15h6.15v3.13h-6.15zM992.48 346.15h6.15v3.13h-6.15zM1029.38 346.15h3.07v3.13h-3.07zM1035.53 346.15h3.07v3.13h-3.07zM1041.68 346.15h3.07v3.13h-3.07zM1069.34 346.15h3.07v3.13h-3.07zM1090.87 346.15h3.07v3.13h-3.07zM1112.39 346.15h6.15v3.13h-6.15zM977.11 349.24h6.15v3.13h-6.15zM989.41 349.24h3.07v3.13h-3.07zM995.56 349.24h3.07v3.13h-3.07zM1029.38 349.24h3.07v3.13h-3.07zM1035.53 349.24h3.07v3.13h-3.07zM1044.75 349.24h6.15v3.13h-6.15zM1069.34 349.24h3.07v3.13h-3.07zM1090.87 349.24h3.07v3.13h-3.07zM1106.24 349.24h6.15v3.13h-6.15zM977.11 352.34h6.15v3.13h-6.15zM989.41 352.34h6.15v3.13h-6.15zM1029.38 352.34h3.07v3.13h-3.07zM1035.53 352.34h3.07v3.13h-3.07zM1050.90 352.34h3.07v3.13h-3.07zM1066.27 352.34h3.07v3.13h-3.07zM1087.79 352.34h3.07v3.13h-3.07zM1103.16 352.34h3.07v3.13h-3.07zM974.04 355.44h6.15v3.13h-6.15zM989.41 355.44h6.15v3.13h-6.15zM1026.30 355.44h3.07v3.13h-3.07zM1032.45 355.44h3.07v3.13h-3.07zM1053.97 355.44h3.07v3.13h-3.07zM1066.27 355.44h3.07v3.13h-3.07zM1087.79 355.44h3.07v3.13h-3.07zM1100.09 355.44h3.07v3.13h-3.07zM974.04 358.53h6.15v3.13h-6.15zM986.34 358.53h3.07v3.13h-3.07zM992.48 358.53h3.07v3.13h-3.07zM1026.30 358.53h3.07v3.13h-3.07zM1032.45 358.53h3.07v3.13h-3.07zM1057.05 358.53h3.07v3.13h-3.07zM1066.27 358.53h3.07v3.13h-3.07zM1087.79 358.53h3.07v3.13h-3.07zM1097.01 358.53h3.07v3.13h-3.07zM974.04 361.63h6.15v3.13h-6.15zM986.34 361.63h3.07v3.13h-3.07zM992.48 361.63h3.07v3.13h-3.07zM1026.30 361.63h3.07v3.13h-3.07zM1032.45 361.63h3.07v3.13h-3.07zM1060.12 361.63h6.15v3.13h-6.15zM1084.72 361.63h3.07v3.13h-3.07zM1090.87 361.63h6.15v3.13h-6.15zM974.04 364.73h6.15v3.13h-6.15zM986.34 364.73h6.15v3.13h-6.15zM1023.23 364.73h3.07v3.13h-3.07zM1029.38 364.73h3.07v3.13h-3.07zM1063.20 364.73h6.15v3.13h-6.15zM1084.72 364.73h6.15v3.13h-6.15zM970.96 367.82h6.15v3.13h-6.15zM983.26 367.82h3.07v3.13h-3.07zM989.41 367.82h3.07v3.13h-3.07zM1023.23 367.82h3.07v3.13h-3.07zM1029.38 367.82h3.07v3.13h-3.07zM1063.20 367.82h3.07v3.13h-3.07zM1069.34 367.82h3.07v3.13h-3.07zM1081.64 367.82h6.15v3.13h-6.15zM970.96 370.92h6.15v3.13h-6.15zM983.26 370.92h3.07v3.13h-3.07zM989.41 370.92h3.07v3.13h-3.07zM1023.23 370.92h6.15v3.13h-6.15zM1060.12 370.92h3.07v3.13h-3.07zM1072.42 370.92h3.07v3.13h-3.07zM1081.64 370.92h3.07v3.13h-3.07zM970.96 374.02h6.15v3.13h-6.15zM983.26 374.02h3.07v3.13h-3.07zM989.41 374.02h3.07v3.13h-3.07zM1020.15 374.02h3.07v3.13h-3.07zM1026.30 374.02h3.07v3.13h-3.07zM1060.12 374.02h3.07v3.13h-3.07zM1075.49 374.02h6.15v3.13h-6.15zM967.89 377.12h6.15v3.13h-6.15zM983.26 377.12h6.15v3.13h-6.15zM1020.15 377.12h3.07v3.13h-3.07zM1026.30 377.12h3.07v3.13h-3.07zM1057.05 377.12h3.07v3.13h-3.07zM1078.57 377.12h3.07v3.13h-3.07zM967.89 380.21h6.15v3.13h-6.15zM980.19 380.21h3.07v3.13h-3.07zM986.34 380.21h3.07v3.13h-3.07zM1020.15 380.21h6.15v3.13h-6.15zM1057.05 380.21h3.07v3.13h-3.07zM1078.57 380.21h3.07v3.13h-3.07zM967.89 383.31h6.15v3.13h-6.15zM980.19 383.31h3.07v3.13h-3.07zM986.34 383.31h3.07v3.13h-3.07zM1017.08 383.31h3.07v3.13h-3.07zM1023.23 383.31h3.07v3.13h-3.07zM1057.05 383.31h3.07v3.13h-3.07zM1075.49 383.31h3.07v3.13h-3.07zM967.89 386.41h6.15v3.13h-6.15zM980.19 386.41h6.15v3.13h-6.15zM1017.08 386.41h3.07v3.13h-3.07zM1023.23 386.41h3.07v3.13h-3.07zM1053.97 386.41h3.07v3.13h-3.07zM1075.49 386.41h3.07v3.13h-3.07zM964.82 389.50h6.15v3.13h-6.15zM977.11 389.50h3.07v3.13h-3.07zM983.26 389.50h3.07v3.13h-3.07zM1017.08 389.50h6.15v3.13h-6.15zM1053.97 389.50h3.07v3.13h-3.07zM1072.42 389.50h3.07v3.13h-3.07zM964.82 392.60h6.15v3.13h-6.15zM977.11 392.60h3.07v3.13h-3.07zM983.26 392.60h3.07v3.13h-3.07zM1014.01 392.60h3.07v3.13h-3.07zM1020.15 392.60h3.07v3.13h-3.07zM1053.97 392.60h3.07v3.13h-3.07zM1072.42 392.60h3.07v3.13h-3.07zM964.82 395.70h6.15v3.13h-6.15zM977.11 395.70h3.07v3.13h-3.07zM983.26 395.70h3.07v3.13h-3.07zM1014.01 395.70h3.07v3.13h-3.07zM1020.15 395.70h3.07v3.13h-3.07zM1050.90 395.70h3.07v3.13h-3.07zM1069.34 395.70h3.07v3.13h-3.07zM961.74 398.79h6.15v3.13h-6.15zM974.04 398.79h3.07v3.13h-3.07zM980.19 398.79h3.07v3.13h-3.07zM1014.01 398.79h6.15v3.13h-6.15zM1050.90 398.79h3.07v3.13h-3.07zM1069.34 398.79h3.07v3.13h-3.07zM961.74 401.89h6.15v3.13h-6.15zM974.04 401.89h3.07v3.13h-3.07zM980.19 401.89h3.07v3.13h-3.07zM1010.93 401.89h3.07v3.13h-3.07zM1017.08 401.89h3.07v3.13h-3.07zM1047.82 401.89h3.07v3.13h-3.07zM1066.27 401.89h3.07v3.13h-3.07zM961.74 404.99h6.15v3.13h-6.15zM974.04 404.99h3.07v3.13h-3.07zM980.19 404.99h3.07v3.13h-3.07zM1010.93 404.99h3.07v3.13h-3.07zM1017.08 404.99h3.07v3.13h-3.07zM1047.82 404.99h3.07v3.13h-3.07zM1066.27 404.99h3.07v3.13h-3.07zM961.74 408.08h6.15v3.13h-6.15zM970.96 408.08h3.07v3.13h-3.07zM977.11 408.08h3.07v3.13h-3.07zM1007.86 408.08h3.07v3.13h-3.07zM1014.01 408.08h3.07v3.13h-3.07zM1047.82 408.08h3.07v3.13h-3.07zM1063.20 408.08h3.07v3.13h-3.07zM958.67 411.18h6.15v3.13h-6.15zM970.96 411.18h3.07v3.13h-3.07zM977.11 411.18h3.07v3.13h-3.07zM1007.86 411.18h3.07v3.13h-3.07zM1014.01 411.18h3.07v3.13h-3.07zM1044.75 411.18h3.07v3.13h-3.07zM1063.20 411.18h3.07v3.13h-3.07zM958.67 414.28h6.15v3.13h-6.15zM970.96 414.28h3.07v3.13h-3.07zM977.11 414.28h3.07v3.13h-3.07zM1007.86 414.28h3.07v3.13h-3.07zM1014.01 414.28h3.07v3.13h-3.07zM1044.75 414.28h3.07v3.13h-3.07zM1060.12 414.28h3.07v3.13h-3.07zM958.67 417.37h6.15v3.13h-6.15zM967.89 417.37h3.07v3.13h-3.07zM977.11 417.37h3.07v3.13h-3.07zM1004.78 417.37h3.07v3.13h-3.07zM1010.93 417.37h3.07v3.13h-3.07zM1044.75 417.37h3.07v3.13h-3.07zM1060.12 417.37h3.07v3.13h-3.07zM955.59 420.47h6.15v3.13h-6.15zM967.89 420.47h3.07v3.13h-3.07zM974.04 420.47h3.07v3.13h-3.07zM1004.78 420.47h3.07v3.13h-3.07zM1010.93 420.47h3.07v3.13h-3.07zM1044.75 420.47h3.07v3.13h-3.07zM1057.05 420.47h3.07v3.13h-3.07zM955.59 423.57h6.15v3.13h-6.15zM967.89 423.57h3.07v3.13h-3.07zM974.04 423.57h3.07v3.13h-3.07zM1004.78 423.57h6.15v3.13h-6.15zM1041.68 423.57h3.07v3.13h-3.07zM1057.05 423.57h3.07v3.13h-3.07zM1109.31 423.57h9.22v3.13h-9.22zM955.59 426.66h6.15v3.13h-6.15zM967.89 426.66h3.07v3.13h-3.07zM974.04 426.66h3.07v3.13h-3.07zM1001.71 426.66h3.07v3.13h-3.07zM1007.86 426.66h3.07v3.13h-3.07zM1041.68 426.66h3.07v3.13h-3.07zM1053.97 426.66h3.07v3.13h-3.07zM1097.01 426.66h12.30v3.13h-12.30zM955.59 429.76h6.15v3.13h-6.15zM964.82 429.76h3.07v3.13h-3.07zM974.04 429.76h3.07v3.13h-3.07zM1001.71 429.76h3.07v3.13h-3.07zM1007.86 429.76h3.07v3.13h-3.07zM1041.68 429.76h3.07v3.13h-3.07zM1053.97 429.76h3.07v3.13h-3.07zM1084.72 429.76h12.30v3.13h-12.30zM952.52 432.86h6.15v3.13h-6.15zM964.82 432.86h3.07v3.13h-3.07zM970.96 432.86h3.07v3.13h-3.07zM1001.71 432.86h6.15v3.13h-6.15zM1041.68 432.86h3.07v3.13h-3.07zM1050.90 432.86h3.07v3.13h-3.07zM1072.42 432.86h12.30v3.13h-12.30zM952.52 435.95h6.15v3.13h-6.15zM964.82 435.95h3.07v3.13h-3.07zM970.96 435.95h3.07v3.13h-3.07zM998.63 435.95h3.07v3.13h-3.07zM1004.78 435.95h3.07v3.13h-3.07zM1038.60 435.95h3.07v3.13h-3.07zM1050.90 435.95h3.07v3.13h-3.07zM1060.12 435.95h12.30v3.13h-12.30zM952.52 439.05h6.15v3.13h-6.15zM961.74 439.05h3.07v3.13h-3.07zM970.96 439.05h3.07v3.13h-3.07zM998.63 439.05h3.07v3.13h-3.07zM1004.78 439.05h3.07v3.13h-3.07zM1038.60 439.05h3.07v3.13h-3.07zM1047.82 439.05h12.30v3.13h-12.30zM949.44 442.15h6.15v3.13h-6.15zM961.74 442.15h3.07v3.13h-3.07zM967.89 442.15h3.07v3.13h-3.07zM998.63 442.15h6.15v3.13h-6.15zM1035.53 442.15h15.37v3.13h-15.37zM949.44 445.24h6.15v3.13h-6.15zM961.74 445.24h3.07v3.13h-3.07zM967.89 445.24h3.07v3.13h-3.07zM995.56 445.24h3.07v3.13h-3.07zM1001.71 445.24h3.07v3.13h-3.07zM1023.23 445.24h15.37v3.13h-15.37zM1044.75 445.24h3.07v3.13h-3.07zM949.44 448.34h6.15v3.13h-6.15zM958.67 448.34h3.07v3.13h-3.07zM967.89 448.34h3.07v3.13h-3.07zM995.56 448.34h3.07v3.13h-3.07zM1001.71 448.34h3.07v3.13h-3.07zM1010.93 448.34h12.30v3.13h-12.30zM1035.53 448.34h3.07v3.13h-3.07zM1044.75 448.34h3.07v3.13h-3.07zM949.44 451.44h6.15v3.13h-6.15zM958.67 451.44h3.07v3.13h-3.07zM967.89 451.44h3.07v3.13h-3.07zM995.56 451.44h15.37v3.13h-15.37zM1035.53 451.44h3.07v3.13h-3.07zM1041.68 451.44h3.07v3.13h-3.07zM946.37 454.53h6.15v3.13h-6.15zM958.67 454.53h3.07v3.13h-3.07zM964.82 454.53h3.07v3.13h-3.07zM986.34 454.53h15.37v3.13h-15.37zM1032.45 454.53h3.07v3.13h-3.07zM1041.68 454.53h3.07v3.13h-3.07zM946.37 457.63h6.15v3.13h-6.15zM955.59 457.63h3.07v3.13h-3.07zM964.82 457.63h3.07v3.13h-3.07zM974.04 457.63h12.30v3.13h-12.30zM992.48 457.63h3.07v3.13h-3.07zM998.63 457.63h3.07v3.13h-3.07zM1032.45 457.63h3.07v3.13h-3.07zM1038.60 457.63h3.07v3.13h-3.07zM946.37 460.73h6.15v3.13h-6.15zM955.59 460.73h3.07v3.13h-3.07zM961.74 460.73h12.30v3.13h-12.30zM992.48 460.73h6.15v3.13h-6.15zM1029.38 460.73h3.07v3.13h-3.07zM1038.60 460.73h3.07v3.13h-3.07zM943.29 463.82h6.15v3.13h-6.15zM952.52 463.82h86.08v3.13h-86.08zM943.29 466.92h6.15v3.13h-6.15zM952.52 466.92h3.07v3.13h-3.07zM961.74 466.92h3.07v3.13h-3.07zM989.41 466.92h3.07v3.13h-3.07zM995.56 466.92h3.07v3.13h-3.07zM1029.38 466.92h3.07v3.13h-3.07zM943.29 470.02h6.15v3.13h-6.15zM952.52 470.02h3.07v3.13h-3.07zM961.74 470.02h3.07v3.13h-3.07zM989.41 470.02h6.15v3.13h-6.15zM1026.30 470.02h3.07v3.13h-3.07zM943.29 473.11h6.15v3.13h-6.15zM952.52 473.11h3.07v3.13h-3.07zM961.74 473.11h3.07v3.13h-3.07zM986.34 473.11h3.07v3.13h-3.07zM992.48 473.11h3.07v3.13h-3.07zM1026.30 473.11h3.07v3.13h-3.07zM940.22 476.21h6.15v3.13h-6.15zM949.44 476.21h3.07v3.13h-3.07zM958.67 476.21h3.07v3.13h-3.07zM986.34 476.21h6.15v3.13h-6.15zM1026.30 476.21h3.07v3.13h-3.07zM940.22 479.31h6.15v3.13h-6.15zM949.44 479.31h3.07v3.13h-3.07zM958.67 479.31h3.07v3.13h-3.07zM986.34 479.31h6.15v3.13h-6.15zM1023.23 479.31h3.07v3.13h-3.07zM940.22 482.40h6.15v3.13h-6.15zM949.44 482.40h3.07v3.13h-3.07zM958.67 482.40h3.07v3.13h-3.07zM983.26 482.40h3.07v3.13h-3.07zM989.41 482.40h3.07v3.13h-3.07zM1023.23 482.40h3.07v3.13h-3.07zM937.15 485.50h6.15v3.13h-6.15zM949.44 485.50h3.07v3.13h-3.07zM958.67 485.50h3.07v3.13h-3.07zM983.26 485.50h6.15v3.13h-6.15zM1023.23 485.50h3.07v3.13h-3.07zM937.15 488.60h6.15v3.13h-6.15zM946.37 488.60h3.07v3.13h-3.07zM955.59 488.60h3.07v3.13h-3.07zM983.26 488.60h6.15v3.13h-6.15zM1020.15 488.60h3.07v3.13h-3.07zM937.15 491.69h6.15v3.13h-6.15zM946.37 491.69h3.07v3.13h-3.07zM955.59 491.69h3.07v3.13h-3.07zM980.19 491.69h3.07v3.13h-3.07zM986.34 491.69h3.07v3.13h-3.07zM1020.15 491.69h3.07v3.13h-3.07zM934.07 494.79h6.15v3.13h-6.15zM946.37 494.79h3.07v3.13h-3.07zM955.59 494.79h3.07v3.13h-3.07zM980.19 494.79h6.15v3.13h-6.15zM1020.15 494.79h3.07v3.13h-3.07zM934.07 497.89h6.15v3.13h-6.15zM943.29 497.89h3.07v3.13h-3.07zM952.52 497.89h3.07v3.13h-3.07zM980.19 497.89h6.15v3.13h-6.15zM1017.08 497.89h3.07v3.13h-3.07zM934.07 500.98h6.15v3.13h-6.15zM943.29 500.98h3.07v3.13h-3.07zM952.52 500.98h3.07v3.13h-3.07zM977.11 500.98h3.07v3.13h-3.07zM983.26 500.98h3.07v3.13h-3.07zM1017.08 500.98h3.07v3.13h-3.07zM934.07 504.08h6.15v3.13h-6.15zM943.29 504.08h3.07v3.13h-3.07zM949.44 504.08h3.07v3.13h-3.07zM977.11 504.08h6.15v3.13h-6.15zM1017.08 504.08h3.07v3.13h-3.07zM931.00 507.18h6.15v3.13h-6.15zM940.22 507.18h3.07v3.13h-3.07zM949.44 507.18h3.07v3.13h-3.07zM977.11 507.18h6.15v3.13h-6.15zM1014.01 507.18h3.07v3.13h-3.07zM931.00 510.27h6.15v3.13h-6.15zM940.22 510.27h3.07v3.13h-3.07zM946.37 510.27h3.07v3.13h-3.07zM974.04 510.27h3.07v3.13h-3.07zM980.19 510.27h3.07v3.13h-3.07zM1014.01 510.27h3.07v3.13h-3.07zM931.00 513.37h6.15v3.13h-6.15zM940.22 513.37h3.07v3.13h-3.07zM946.37 513.37h3.07v3.13h-3.07zM974.04 513.37h6.15v3.13h-6.15zM1014.01 513.37h3.07v3.13h-3.07zM927.92 516.47h6.15v3.13h-6.15zM937.15 516.47h3.07v3.13h-3.07zM946.37 516.47h3.07v3.13h-3.07zM974.04 516.47h6.15v3.13h-6.15zM1010.93 516.47h3.07v3.13h-3.07zM927.92 519.56h6.15v3.13h-6.15zM937.15 519.56h3.07v3.13h-3.07zM943.29 519.56h3.07v3.13h-3.07zM970.96 519.56h6.15v3.13h-6.15zM1010.93 519.56h3.07v3.13h-3.07zM927.92 522.66h6.15v3.13h-6.15zM937.15 522.66h3.07v3.13h-3.07zM943.29 522.66h3.07v3.13h-3.07zM970.96 522.66h6.15v3.13h-6.15zM1010.93 522.66h3.07v3.13h-3.07zM927.92 525.76h9.22v3.13h-9.22zM940.22 525.76h3.07v3.13h-3.07zM970.96 525.76h6.15v3.13h-6.15zM1007.86 525.76h3.07v3.13h-3.07zM924.85 528.85h6.15v3.13h-6.15zM934.07 528.85h3.07v3.13h-3.07zM940.22 528.85h3.07v3.13h-3.07zM967.89 528.85h6.15v3.13h-6.15zM1007.86 528.85h3.07v3.13h-3.07zM924.85 531.95h6.15v3.13h-6.15zM934.07 531.95h3.07v3.13h-3.07zM940.22 531.95h3.07v3.13h-3.07zM967.89 531.95h6.15v3.13h-6.15zM1007.86 531.95h3.07v3.13h-3.07zM924.85 535.05h6.15v3.13h-6.15zM934.07 535.05h6.15v3.13h-6.15zM964.82 535.05h3.07v3.13h-3.07zM970.96 535.05h3.07v3.13h-3.07zM1004.78 535.05h3.07v3.13h-3.07zM1499.76 535.05h6.15v3.13h-6.15zM921.77 538.14h6.15v3.13h-6.15zM931.00 538.14h3.07v3.13h-3.07zM937.15 538.14h3.07v3.13h-3.07zM964.82 538.14h6.15v3.13h-6.15zM1004.78 538.14h3.07v3.13h-3.07zM1487.46 538.14h18.45v3.13h-18.45zM921.77 541.24h6.15v3.13h-6.15zM931.00 541.24h6.15v3.13h-6.15zM964.82 541.24h6.15v3.13h-6.15zM1004.78 541.24h3.07v3.13h-3.07zM1478.24 541.24h21.52v3.13h-21.52zM921.77 544.34h6.15v3.13h-6.15zM931.00 544.34h6.15v3.13h-6.15zM961.74 544.34h3.07v3.13h-3.07zM967.89 544.34h3.07v3.13h-3.07zM1001.71 544.34h3.07v3.13h-3.07zM1465.94 544.34h21.52v3.13h-21.52zM921.77 547.43h12.30v3.13h-12.30zM961.74 547.43h6.15v3.13h-6.15zM1001.71 547.43h3.07v3.13h-3.07zM1453.64 547.43h24.60v3.13h-24.60zM918.70 550.53h6.15v3.13h-6.15zM927.92 550.53h6.15v3.13h-6.15zM961.74 550.53h6.15v3.13h-6.15zM1001.71 550.53h3.07v3.13h-3.07zM1444.42 550.53h21.52v3.13h-21.52zM918.70 553.63h6.15v3.13h-6.15zM927.92 553.63h6.15v3.13h-6.15zM958.67 553.63h3.07v3.13h-3.07zM964.82 553.63h3.07v3.13h-3.07zM998.63 553.63h3.07v3.13h-3.07zM1075.49 553.63h6.15v3.13h-6.15zM1432.12 553.63h21.52v3.13h-21.52zM918.70 556.72h12.30v3.13h-12.30zM958.67 556.72h6.15v3.13h-6.15zM998.63 556.72h3.07v3.13h-3.07zM1063.20 556.72h12.30v3.13h-12.30zM1422.90 556.72h21.52v3.13h-21.52zM915.62 559.82h6.15v3.13h-6.15zM924.85 559.82h6.15v3.13h-6.15zM958.67 559.82h6.15v3.13h-6.15zM998.63 559.82h3.07v3.13h-3.07zM1050.90 559.82h12.30v3.13h-12.30zM1410.60 559.82h21.52v3.13h-21.52zM915.62 562.92h6.15v3.13h-6.15zM924.85 562.92h6.15v3.13h-6.15zM955.59 562.92h3.07v3.13h-3.07zM961.74 562.92h3.07v3.13h-3.07zM995.56 562.92h3.07v3.13h-3.07zM1041.68 562.92h9.22v3.13h-9.22zM1398.31 562.92h24.60v3.13h-24.60zM915.62 566.01h9.22v3.13h-9.22zM927.92 566.01h3.07v3.13h-3.07zM955.59 566.01h6.15v3.13h-6.15zM995.56 566.01h3.07v3.13h-3.07zM1029.38 566.01h12.30v3.13h-12.30zM1389.08 566.01h21.52v3.13h-21.52zM915.62 569.11h12.30v3.13h-12.30zM955.59 569.11h6.15v3.13h-6.15zM995.56 569.11h3.07v3.13h-3.07zM1017.08 569.11h12.30v3.13h-12.30zM1376.78 569.11h21.52v3.13h-21.52zM912.55 572.21h6.15v3.13h-6.15zM921.77 572.21h6.15v3.13h-6.15zM952.52 572.21h6.15v3.13h-6.15zM992.48 572.21h3.07v3.13h-3.07zM1004.78 572.21h12.30v3.13h-12.30zM1367.56 572.21h21.52v3.13h-21.52zM912.55 575.30h9.22v3.13h-9.22zM924.85 575.30h3.07v3.13h-3.07zM952.52 575.30h6.15v3.13h-6.15zM992.48 575.30h12.30v3.13h-12.30zM1355.26 575.30h21.52v3.13h-21.52zM912.55 578.40h9.22v3.13h-9.22zM924.85 578.40h3.07v3.13h-3.07zM952.52 578.40h6.15v3.13h-6.15zM983.26 578.40h12.30v3.13h-12.30zM1342.97 578.40h24.60v3.13h-24.60zM909.48 581.50h6.15v3.13h-6.15zM918.70 581.50h6.15v3.13h-6.15zM949.44 581.50h6.15v3.13h-6.15zM970.96 581.50h12.30v3.13h-12.30zM989.41 581.50h3.07v3.13h-3.07zM1333.74 581.50h21.52v3.13h-21.52zM909.48 584.59h9.22v3.13h-9.22zM921.77 584.59h3.07v3.13h-3.07zM949.44 584.59h6.15v3.13h-6.15zM961.74 584.59h9.22v3.13h-9.22zM989.41 584.59h3.07v3.13h-3.07zM1321.45 584.59h21.52v3.13h-21.52zM909.48 587.69h9.22v3.13h-9.22zM921.77 587.69h3.07v3.13h-3.07zM949.44 587.69h12.30v3.13h-12.30zM989.41 587.69h3.07v3.13h-3.07zM1312.22 587.69h21.52v3.13h-21.52zM909.48 590.79h9.22v3.13h-9.22zM921.77 590.79h3.07v3.13h-3.07zM937.15 590.79h15.37v3.13h-15.37zM989.41 590.79h3.07v3.13h-3.07zM1299.92 590.79h21.52v3.13h-21.52zM906.40 593.88h9.22v3.13h-9.22zM918.70 593.88h3.07v3.13h-3.07zM924.85 593.88h12.30v3.13h-12.30zM946.37 593.88h6.15v3.13h-6.15zM986.34 593.88h3.07v3.13h-3.07zM1287.63 593.88h24.60v3.13h-24.60zM906.40 596.98h9.22v3.13h-9.22zM918.70 596.98h36.89v3.13h-36.89zM986.34 596.98h3.07v3.13h-3.07zM1278.40 596.98h21.52v3.13h-21.52zM906.40 600.08h9.22v3.13h-9.22zM918.70 600.08h3.07v3.13h-3.07zM952.52 600.08h3.07v3.13h-3.07zM986.34 600.08h3.07v3.13h-3.07zM1266.11 600.08h21.52v3.13h-21.52zM903.33 603.17h9.22v3.13h-9.22zM915.62 603.17h3.07v3.13h-3.07zM949.44 603.17h3.07v3.13h-3.07zM983.26 603.17h3.07v3.13h-3.07zM1256.88 603.17h21.52v3.13h-21.52zM903.33 606.27h9.22v3.13h-9.22zM915.62 606.27h3.07v3.13h-3.07zM949.44 606.27h3.07v3.13h-3.07zM983.26 606.27h3.07v3.13h-3.07zM1244.59 606.27h21.52v3.13h-21.52zM903.33 609.37h12.30v3.13h-12.30zM949.44 609.37h3.07v3.13h-3.07zM983.26 609.37h3.07v3.13h-3.07zM1232.29 609.37h24.60v3.13h-24.60zM903.33 612.46h6.15v3.13h-6.15zM912.55 612.46h3.07v3.13h-3.07zM946.37 612.46h3.07v3.13h-3.07zM980.19 612.46h3.07v3.13h-3.07zM1223.06 612.46h21.52v3.13h-21.52zM900.25 615.56h9.22v3.13h-9.22zM912.55 615.56h3.07v3.13h-3.07zM946.37 615.56h3.07v3.13h-3.07zM980.19 615.56h3.07v3.13h-3.07zM1210.77 615.56h21.52v3.13h-21.52zM900.25 618.66h12.30v3.13h-12.30zM943.29 618.66h3.07v3.13h-3.07zM980.19 618.66h3.07v3.13h-3.07zM1201.54 618.66h21.52v3.13h-21.52zM900.25 621.75h6.15v3.13h-6.15zM909.48 621.75h3.07v3.13h-3.07zM943.29 621.75h3.07v3.13h-3.07zM980.19 621.75h3.07v3.13h-3.07zM1189.25 621.75h21.52v3.13h-21.52zM897.18 624.85h12.30v3.13h-12.30zM943.29 624.85h3.07v3.13h-3.07zM977.11 624.85h3.07v3.13h-3.07zM1176.95 624.85h24.60v3.13h-24.60zM897.18 627.95h12.30v3.13h-12.30zM940.22 627.95h3.07v3.13h-3.07zM977.11 627.95h3.07v3.13h-3.07zM1167.73 627.95h21.52v3.13h-21.52zM897.18 631.04h6.15v3.13h-6.15zM906.40 631.04h3.07v3.13h-3.07zM940.22 631.04h3.07v3.13h-3.07zM977.11 631.04h3.07v3.13h-3.07zM1155.43 631.04h21.52v3.13h-21.52zM897.18 634.14h9.22v3.13h-9.22zM940.22 634.14h3.07v3.13h-3.07zM974.04 634.14h3.07v3.13h-3.07zM1146.20 634.14h21.52v3.13h-21.52zM894.10 637.24h6.15v3.13h-6.15zM903.33 637.24h3.07v3.13h-3.07zM937.15 637.24h3.07v3.13h-3.07zM974.04 637.24h3.07v3.13h-3.07zM1133.91 637.24h21.52v3.13h-21.52zM894.10 640.33h9.22v3.13h-9.22zM937.15 640.33h3.07v3.13h-3.07zM974.04 640.33h3.07v3.13h-3.07zM1121.61 640.33h24.60v3.13h-24.60zM894.10 643.43h9.22v3.13h-9.22zM937.15 643.43h3.07v3.13h-3.07zM970.96 643.43h3.07v3.13h-3.07zM1112.39 643.43h21.52v3.13h-21.52zM891.03 646.53h6.15v3.13h-6.15zM900.25 646.53h3.07v3.13h-3.07zM934.07 646.53h3.07v3.13h-3.07zM970.96 646.53h3.07v3.13h-3.07zM1100.09 646.53h21.52v3.13h-21.52zM891.03 649.62h9.22v3.13h-9.22zM934.07 649.62h3.07v3.13h-3.07zM970.96 649.62h3.07v3.13h-3.07zM1090.87 649.62h21.52v3.13h-21.52zM891.03 652.72h9.22v3.13h-9.22zM931.00 652.72h3.07v3.13h-3.07zM970.96 652.72h3.07v3.13h-3.07zM1078.57 652.72h21.52v3.13h-21.52zM887.96 655.82h9.22v3.13h-9.22zM931.00 655.82h3.07v3.13h-3.07zM967.89 655.82h3.07v3.13h-3.07zM1066.27 655.82h24.60v3.13h-24.60zM887.96 658.91h9.22v3.13h-9.22zM931.00 658.91h3.07v3.13h-3.07zM967.89 658.91h3.07v3.13h-3.07zM1057.05 658.91h21.52v3.13h-21.52zM887.96 662.01h9.22v3.13h-9.22zM927.92 662.01h3.07v3.13h-3.07zM967.89 662.01h3.07v3.13h-3.07zM1044.75 662.01h21.52v3.13h-21.52zM887.96 665.11h6.15v3.13h-6.15zM927.92 665.11h3.07v3.13h-3.07zM964.82 665.11h3.07v3.13h-3.07zM1035.53 665.11h21.52v3.13h-21.52zM884.88 668.20h9.22v3.13h-9.22zM927.92 668.20h3.07v3.13h-3.07zM964.82 668.20h3.07v3.13h-3.07zM1023.23 668.20h21.52v3.13h-21.52zM884.88 671.30h9.22v3.13h-9.22zM924.85 671.30h3.07v3.13h-3.07zM964.82 671.30h3.07v3.13h-3.07zM1010.93 671.30h24.60v3.13h-24.60zM884.88 674.40h6.15v3.13h-6.15zM924.85 674.40h3.07v3.13h-3.07zM961.74 674.40h3.07v3.13h-3.07zM1001.71 674.40h21.52v3.13h-21.52zM881.81 677.49h9.22v3.13h-9.22zM924.85 677.49h3.07v3.13h-3.07zM961.74 677.49h3.07v3.13h-3.07zM989.41 677.49h21.52v3.13h-21.52zM881.81 680.59h6.15v3.13h-6.15zM921.77 680.59h3.07v3.13h-3.07zM961.74 680.59h3.07v3.13h-3.07zM980.19 680.59h21.52v3.13h-21.52zM881.81 683.69h6.15v3.13h-6.15zM921.77 683.69h3.07v3.13h-3.07zM961.74 683.69h3.07v3.13h-3.07zM967.89 683.69h21.52v3.13h-21.52zM881.81 686.79h6.15v3.13h-6.15zM918.70 686.79h3.07v3.13h-3.07zM955.59 686.79h24.60v3.13h-24.60zM878.73 689.88h6.15v3.13h-6.15zM918.70 689.88h3.07v3.13h-3.07zM946.37 689.88h21.52v3.13h-21.52zM878.73 692.98h6.15v3.13h-6.15zM918.70 692.98h3.07v3.13h-3.07zM934.07 692.98h21.52v3.13h-21.52zM878.73 696.08h6.15v3.13h-6.15zM915.62 696.08h3.07v3.13h-3.07zM924.85 696.08h21.52v3.13h-21.52zM875.66 699.17h6.15v3.13h-6.15zM912.55 699.17h21.52v3.13h-21.52zM875.66 702.27h6.15v3.13h-6.15zM900.25 702.27h24.60v3.13h-24.60zM875.66 705.37h6.15v3.13h-6.15zM891.03 705.37h21.52v3.13h-21.52zM875.66 708.46h24.60v3.13h-24.60zM866.43 711.56h24.60v3.13h-24.60zM854.14 714.66h285.92v3.13h-285.92zM841.84 717.75h24.60v3.13h-24.60zM869.51 717.75h6.15v3.13h-6.15zM829.54 720.85h24.60v3.13h-24.60zM863.36 720.85h9.22v3.13h-9.22zM814.17 723.95h27.67v3.13h-27.67zM860.29 723.95h12.30v3.13h-12.30zM801.87 727.04h27.67v3.13h-27.67zM860.29 727.04h3.07v3.13h-3.07zM866.43 727.04h6.15v3.13h-6.15zM789.57 730.14h24.60v3.13h-24.60zM826.47 730.14h3.07v3.13h-3.07zM860.29 730.14h9.22v3.13h-9.22zM777.28 733.24h24.60v3.13h-24.60zM823.39 733.24h3.07v3.13h-3.07zM857.21 733.24h12.30v3.13h-12.30zM761.90 736.33h27.67v3.13h-27.67zM823.39 736.33h3.07v3.13h-3.07zM857.21 736.33h3.07v3.13h-3.07zM863.36 736.33h6.15v3.13h-6.15zM749.61 739.43h27.67v3.13h-27.67zM783.43 739.43h3.07v3.13h-3.07zM823.39 739.43h3.07v3.13h-3.07zM854.14 739.43h6.15v3.13h-6.15zM863.36 739.43h6.15v3.13h-6.15zM737.31 742.53h24.60v3.13h-24.60zM780.35 742.53h3.07v3.13h-3.07zM820.32 742.53h3.07v3.13h-3.07zM854.14 742.53h12.30v3.13h-12.30zM725.01 745.62h24.60v3.13h-24.60zM780.35 745.62h3.07v3.13h-3.07zM820.32 745.62h3.07v3.13h-3.07zM854.14 745.62h3.07v3.13h-3.07zM860.29 745.62h6.15v3.13h-6.15zM712.71 748.72h24.60v3.13h-24.60zM780.35 748.72h3.07v3.13h-3.07zM817.24 748.72h3.07v3.13h-3.07zM851.06 748.72h6.15v3.13h-6.15zM860.29 748.72h6.15v3.13h-6.15zM697.34 751.82h27.67v3.13h-27.67zM780.35 751.82h3.07v3.13h-3.07zM817.24 751.82h3.07v3.13h-3.07zM851.06 751.82h12.30v3.13h-12.30zM685.04 754.91h27.67v3.13h-27.67zM777.28 754.91h3.07v3.13h-3.07zM817.24 754.91h3.07v3.13h-3.07zM847.99 754.91h6.15v3.13h-6.15zM857.21 754.91h6.15v3.13h-6.15zM672.75 758.01h24.60v3.13h-24.60zM777.28 758.01h3.07v3.13h-3.07zM814.17 758.01h3.07v3.13h-3.07zM847.99 758.01h6.15v3.13h-6.15zM857.21 758.01h6.15v3.13h-6.15zM660.45 761.11h24.60v3.13h-24.60zM777.28 761.11h3.07v3.13h-3.07zM814.17 761.11h3.07v3.13h-3.07zM847.99 761.11h12.30v3.13h-12.30zM645.08 764.20h27.67v3.13h-27.67zM774.20 764.20h3.07v3.13h-3.07zM814.17 764.20h3.07v3.13h-3.07zM844.91 764.20h6.15v3.13h-6.15zM854.14 764.20h6.15v3.13h-6.15zM632.78 767.30h27.67v3.13h-27.67zM774.20 767.30h3.07v3.13h-3.07zM811.10 767.30h3.07v3.13h-3.07zM844.91 767.30h6.15v3.13h-6.15zM854.14 767.30h6.15v3.13h-6.15zM620.48 770.40h24.60v3.13h-24.60zM774.20 770.40h3.07v3.13h-3.07zM811.10 770.40h3.07v3.13h-3.07zM844.91 770.40h6.15v3.13h-6.15zM854.14 770.40h6.15v3.13h-6.15zM608.18 773.49h24.60v3.13h-24.60zM771.13 773.49h3.07v3.13h-3.07zM811.10 773.49h3.07v3.13h-3.07zM841.84 773.49h6.15v3.13h-6.15zM851.06 773.49h6.15v3.13h-6.15zM592.81 776.59h27.67v3.13h-27.67zM771.13 776.59h3.07v3.13h-3.07zM808.02 776.59h3.07v3.13h-3.07zM841.84 776.59h6.15v3.13h-6.15zM851.06 776.59h6.15v3.13h-6.15zM580.52 779.69h27.67v3.13h-27.67zM771.13 779.69h3.07v3.13h-3.07zM808.02 779.69h3.07v3.13h-3.07zM838.76 779.69h3.07v3.13h-3.07zM844.91 779.69h3.07v3.13h-3.07zM851.06 779.69h6.15v3.13h-6.15zM568.22 782.78h24.60v3.13h-24.60zM771.13 782.78h3.07v3.13h-3.07zM804.95 782.78h3.07v3.13h-3.07zM838.76 782.78h6.15v3.13h-6.15zM847.99 782.78h6.15v3.13h-6.15zM555.92 785.88h24.60v3.13h-24.60zM768.05 785.88h3.07v3.13h-3.07zM804.95 785.88h3.07v3.13h-3.07zM838.76 785.88h6.15v3.13h-6.15zM847.99 785.88h6.15v3.13h-6.15zM540.55 788.98h27.67v3.13h-27.67zM768.05 788.98h3.07v3.13h-3.07zM804.95 788.98h3.07v3.13h-3.07zM835.69 788.98h3.07v3.13h-3.07zM841.84 788.98h3.07v3.13h-3.07zM847.99 788.98h6.15v3.13h-6.15zM528.25 792.07h27.67v3.13h-27.67zM768.05 792.07h3.07v3.13h-3.07zM801.87 792.07h3.07v3.13h-3.07zM835.69 792.07h6.15v3.13h-6.15zM844.91 792.07h6.15v3.13h-6.15zM515.95 795.17h24.60v3.13h-24.60zM764.98 795.17h3.07v3.13h-3.07zM801.87 795.17h3.07v3.13h-3.07zM832.62 795.17h3.07v3.13h-3.07zM838.76 795.17h3.07v3.13h-3.07zM844.91 795.17h6.15v3.13h-6.15zM503.66 798.27h24.60v3.13h-24.60zM764.98 798.27h3.07v3.13h-3.07zM801.87 798.27h3.07v3.13h-3.07zM832.62 798.27h6.15v3.13h-6.15zM844.91 798.27h6.15v3.13h-6.15zM488.28 801.36h27.67v3.13h-27.67zM764.98 801.36h3.07v3.13h-3.07zM798.80 801.36h3.07v3.13h-3.07zM832.62 801.36h6.15v3.13h-6.15zM844.91 801.36h6.15v3.13h-6.15zM475.99 804.46h27.67v3.13h-27.67zM761.90 804.46h3.07v3.13h-3.07zM798.80 804.46h3.07v3.13h-3.07zM829.54 804.46h3.07v3.13h-3.07zM835.69 804.46h3.07v3.13h-3.07zM841.84 804.46h6.15v3.13h-6.15zM463.69 807.56h24.60v3.13h-24.60zM761.90 807.56h3.07v3.13h-3.07zM798.80 807.56h3.07v3.13h-3.07zM829.54 807.56h6.15v3.13h-6.15zM841.84 807.56h6.15v3.13h-6.15zM451.39 810.65h24.60v3.13h-24.60zM761.90 810.65h3.07v3.13h-3.07zM795.72 810.65h3.07v3.13h-3.07zM826.47 810.65h3.07v3.13h-3.07zM832.62 810.65h3.07v3.13h-3.07zM841.84 810.65h6.15v3.13h-6.15zM436.02 813.75h27.67v3.13h-27.67zM761.90 813.75h3.07v3.13h-3.07zM795.72 813.75h3.07v3.13h-3.07zM826.47 813.75h3.07v3.13h-3.07zM832.62 813.75h3.07v3.13h-3.07zM838.76 813.75h6.15v3.13h-6.15zM423.72 816.85h27.67v3.13h-27.67zM758.83 816.85h3.07v3.13h-3.07zM792.65 816.85h3.07v3.13h-3.07zM826.47 816.85h6.15v3.13h-6.15zM838.76 816.85h6.15v3.13h-6.15zM411.42 819.94h24.60v3.13h-24.60zM758.83 819.94h3.07v3.13h-3.07zM792.65 819.94h3.07v3.13h-3.07zM823.39 819.94h3.07v3.13h-3.07zM829.54 819.94h3.07v3.13h-3.07zM838.76 819.94h6.15v3.13h-6.15zM399.13 823.04h24.60v3.13h-24.60zM758.83 823.04h3.07v3.13h-3.07zM792.65 823.04h3.07v3.13h-3.07zM823.39 823.04h3.07v3.13h-3.07zM829.54 823.04h3.07v3.13h-3.07zM835.69 823.04h6.15v3.13h-6.15zM386.83 826.14h24.60v3.13h-24.60zM755.76 826.14h3.07v3.13h-3.07zM789.57 826.14h3.07v3.13h-3.07zM820.32 826.14h3.07v3.13h-3.07zM826.47 826.14h3.07v3.13h-3.07zM835.69 826.14h6.15v3.13h-6.15zM371.46 829.23h27.67v3.13h-27.67zM755.76 829.23h3.07v3.13h-3.07zM789.57 829.23h39.97v3.13h-39.97zM835.69 829.23h6.15v3.13h-6.15zM359.16 832.33h27.67v3.13h-27.67zM755.76 832.33h3.07v3.13h-3.07zM792.65 832.33h6.15v3.13h-6.15zM808.02 832.33h15.37v3.13h-15.37zM826.47 832.33h3.07v3.13h-3.07zM835.69 832.33h6.15v3.13h-6.15zM346.86 835.43h24.60v3.13h-24.60zM752.68 835.43h3.07v3.13h-3.07zM792.65 835.43h15.37v3.13h-15.37zM817.24 835.43h3.07v3.13h-3.07zM823.39 835.43h3.07v3.13h-3.07zM832.62 835.43h6.15v3.13h-6.15zM334.56 838.52h24.60v3.13h-24.60zM752.68 838.52h3.07v3.13h-3.07zM783.43 838.52h12.30v3.13h-12.30zM817.24 838.52h3.07v3.13h-3.07zM823.39 838.52h3.07v3.13h-3.07zM832.62 838.52h6.15v3.13h-6.15zM319.19 841.62h27.67v3.13h-27.67zM752.68 841.62h3.07v3.13h-3.07zM774.20 841.62h9.22v3.13h-9.22zM789.57 841.62h6.15v3.13h-6.15zM817.24 841.62h3.07v3.13h-3.07zM823.39 841.62h3.07v3.13h-3.07zM832.62 841.62h6.15v3.13h-6.15zM306.89 844.72h27.67v3.13h-27.67zM752.68 844.72h3.07v3.13h-3.07zM761.90 844.72h12.30v3.13h-12.30zM789.57 844.72h6.15v3.13h-6.15zM817.24 844.72h6.15v3.13h-6.15zM829.54 844.72h6.15v3.13h-6.15zM294.60 847.81h24.60v3.13h-24.60zM749.61 847.81h12.30v3.13h-12.30zM786.50 847.81h6.15v3.13h-6.15zM814.17 847.81h3.07v3.13h-3.07zM820.32 847.81h3.07v3.13h-3.07zM829.54 847.81h6.15v3.13h-6.15zM282.30 850.91h24.60v3.13h-24.60zM740.38 850.91h12.30v3.13h-12.30zM786.50 850.91h6.15v3.13h-6.15zM814.17 850.91h3.07v3.13h-3.07zM820.32 850.91h3.07v3.13h-3.07zM829.54 850.91h6.15v3.13h-6.15zM266.93 854.01h27.67v3.13h-27.67zM728.09 854.01h12.30v3.13h-12.30zM749.61 854.01h3.07v3.13h-3.07zM786.50 854.01h6.15v3.13h-6.15zM814.17 854.01h6.15v3.13h-6.15zM826.47 854.01h6.15v3.13h-6.15zM254.63 857.10h27.67v3.13h-27.67zM715.79 857.10h12.30v3.13h-12.30zM746.53 857.10h3.07v3.13h-3.07zM783.43 857.10h6.15v3.13h-6.15zM814.17 857.10h6.15v3.13h-6.15zM826.47 857.10h6.15v3.13h-6.15zM242.33 860.20h24.60v3.13h-24.60zM703.49 860.20h12.30v3.13h-12.30zM746.53 860.20h3.07v3.13h-3.07zM783.43 860.20h6.15v3.13h-6.15zM811.10 860.20h3.07v3.13h-3.07zM817.24 860.20h3.07v3.13h-3.07zM826.47 860.20h6.15v3.13h-6.15zM230.03 863.30h24.60v3.13h-24.60zM694.27 863.30h9.22v3.13h-9.22zM746.53 863.30h3.07v3.13h-3.07zM780.35 863.30h3.07v3.13h-3.07zM786.50 863.30h3.07v3.13h-3.07zM811.10 863.30h6.15v3.13h-6.15zM826.47 863.30h6.15v3.13h-6.15zM220.81 866.39h21.52v3.13h-21.52zM681.97 866.39h12.30v3.13h-12.30zM743.46 866.39h3.07v3.13h-3.07zM780.35 866.39h6.15v3.13h-6.15zM811.10 866.39h6.15v3.13h-6.15zM823.39 866.39h6.15v3.13h-6.15zM220.81 869.49h9.22v3.13h-9.22zM669.67 869.49h12.30v3.13h-12.30zM743.46 869.49h3.07v3.13h-3.07zM780.35 869.49h6.15v3.13h-6.15zM811.10 869.49h6.15v3.13h-6.15zM823.39 869.49h6.15v3.13h-6.15zM663.52 872.59h6.15v3.13h-6.15zM743.46 872.59h3.07v3.13h-3.07zM777.28 872.59h3.07v3.13h-3.07zM783.43 872.59h3.07v3.13h-3.07zM808.02 872.59h6.15v3.13h-6.15zM823.39 872.59h6.15v3.13h-6.15zM740.38 875.68h3.07v3.13h-3.07zM777.28 875.68h6.15v3.13h-6.15zM808.02 875.68h6.15v3.13h-6.15zM820.32 875.68h6.15v3.13h-6.15zM740.38 878.78h3.07v3.13h-3.07zM777.28 878.78h6.15v3.13h-6.15zM808.02 878.78h6.15v3.13h-6.15zM820.32 878.78h6.15v3.13h-6.15zM740.38 881.88h3.07v3.13h-3.07zM774.20 881.88h3.07v3.13h-3.07zM780.35 881.88h3.07v3.13h-3.07zM804.95 881.88h6.15v3.13h-6.15zM820.32 881.88h6.15v3.13h-6.15zM737.31 884.97h3.07v3.13h-3.07zM774.20 884.97h6.15v3.13h-6.15zM804.95 884.97h6.15v3.13h-6.15zM817.24 884.97h6.15v3.13h-6.15zM737.31 888.07h3.07v3.13h-3.07zM774.20 888.07h6.15v3.13h-6.15zM801.87 888.07h3.07v3.13h-3.07zM808.02 888.07h3.07v3.13h-3.07zM817.24 888.07h6.15v3.13h-6.15zM737.31 891.17h3.07v3.13h-3.07zM771.13 891.17h3.07v3.13h-3.07zM777.28 891.17h3.07v3.13h-3.07zM801.87 891.17h6.15v3.13h-6.15zM817.24 891.17h6.15v3.13h-6.15zM734.24 894.26h3.07v3.13h-3.07zM771.13 894.26h6.15v3.13h-6.15zM798.80 894.26h3.07v3.13h-3.07zM804.95 894.26h3.07v3.13h-3.07zM817.24 894.26h6.15v3.13h-6.15zM734.24 897.36h3.07v3.13h-3.07zM771.13 897.36h6.15v3.13h-6.15zM798.80 897.36h3.07v3.13h-3.07zM804.95 897.36h3.07v3.13h-3.07zM814.17 897.36h6.15v3.13h-6.15zM734.24 900.46h3.07v3.13h-3.07zM768.05 900.46h6.15v3.13h-6.15zM798.80 900.46h3.07v3.13h-3.07zM804.95 900.46h3.07v3.13h-3.07zM814.17 900.46h6.15v3.13h-6.15zM731.16 903.55h3.07v3.13h-3.07zM768.05 903.55h6.15v3.13h-6.15zM795.72 903.55h3.07v3.13h-3.07zM801.87 903.55h3.07v3.13h-3.07zM814.17 903.55h6.15v3.13h-6.15zM731.16 906.65h3.07v3.13h-3.07zM768.05 906.65h6.15v3.13h-6.15zM795.72 906.65h3.07v3.13h-3.07zM801.87 906.65h3.07v3.13h-3.07zM811.10 906.65h6.15v3.13h-6.15zM731.16 909.75h3.07v3.13h-3.07zM764.98 909.75h6.15v3.13h-6.15zM792.65 909.75h3.07v3.13h-3.07zM801.87 909.75h3.07v3.13h-3.07zM811.10 909.75h6.15v3.13h-6.15zM728.09 912.84h3.07v3.13h-3.07zM764.98 912.84h6.15v3.13h-6.15zM792.65 912.84h3.07v3.13h-3.07zM798.80 912.84h3.07v3.13h-3.07zM811.10 912.84h6.15v3.13h-6.15zM728.09 915.94h3.07v3.13h-3.07zM761.90 915.94h3.07v3.13h-3.07zM768.05 915.94h3.07v3.13h-3.07zM792.65 915.94h3.07v3.13h-3.07zM798.80 915.94h3.07v3.13h-3.07zM808.02 915.94h6.15v3.13h-6.15zM728.09 919.04h3.07v3.13h-3.07zM761.90 919.04h6.15v3.13h-6.15zM789.57 919.04h3.07v3.13h-3.07zM798.80 919.04h3.07v3.13h-3.07zM808.02 919.04h6.15v3.13h-6.15zM725.01 922.13h3.07v3.13h-3.07zM761.90 922.13h6.15v3.13h-6.15zM789.57 922.13h3.07v3.13h-3.07zM795.72 922.13h3.07v3.13h-3.07zM808.02 922.13h6.15v3.13h-6.15zM725.01 925.23h3.07v3.13h-3.07zM758.83 925.23h3.07v3.13h-3.07zM764.98 925.23h3.07v3.13h-3.07zM786.50 925.23h3.07v3.13h-3.07zM795.72 925.23h3.07v3.13h-3.07zM808.02 925.23h6.15v3.13h-6.15zM725.01 928.33h3.07v3.13h-3.07zM758.83 928.33h6.15v3.13h-6.15zM786.50 928.33h3.07v3.13h-3.07zM795.72 928.33h3.07v3.13h-3.07zM804.95 928.33h6.15v3.13h-6.15zM721.94 931.42h3.07v3.13h-3.07zM758.83 931.42h6.15v3.13h-6.15zM783.43 931.42h3.07v3.13h-3.07zM792.65 931.42h3.07v3.13h-3.07zM804.95 931.42h6.15v3.13h-6.15zM721.94 934.52h3.07v3.13h-3.07zM755.76 934.52h3.07v3.13h-3.07zM761.90 934.52h3.07v3.13h-3.07zM783.43 934.52h3.07v3.13h-3.07zM792.65 934.52h3.07v3.13h-3.07zM804.95 934.52h6.15v3.13h-6.15zM721.94 937.62h3.07v3.13h-3.07zM755.76 937.62h6.15v3.13h-6.15zM783.43 937.62h3.07v3.13h-3.07zM792.65 937.62h3.07v3.13h-3.07zM801.87 937.62h6.15v3.13h-6.15zM718.86 940.71h3.07v3.13h-3.07zM755.76 940.71h6.15v3.13h-6.15zM780.35 940.71h3.07v3.13h-3.07zM789.57 940.71h3.07v3.13h-3.07zM801.87 940.71h6.15v3.13h-6.15zM718.86 943.81h3.07v3.13h-3.07zM752.68 943.81h3.07v3.13h-3.07zM758.83 943.81h3.07v3.13h-3.07zM780.35 943.81h3.07v3.13h-3.07zM789.57 943.81h3.07v3.13h-3.07zM801.87 943.81h6.15v3.13h-6.15zM718.86 946.91h3.07v3.13h-3.07zM752.68 946.91h6.15v3.13h-6.15zM780.35 946.91h3.07v3.13h-3.07zM789.57 946.91h3.07v3.13h-3.07zM798.80 946.91h6.15v3.13h-6.15zM715.79 950.00h3.07v3.13h-3.07zM752.68 950.00h6.15v3.13h-6.15zM780.35 950.00h3.07v3.13h-3.07zM789.57 950.00h3.07v3.13h-3.07zM798.80 950.00h6.15v3.13h-6.15zM715.79 953.10h3.07v3.13h-3.07zM749.61 953.10h3.07v3.13h-3.07zM755.76 953.10h3.07v3.13h-3.07zM777.28 953.10h3.07v3.13h-3.07zM786.50 953.10h3.07v3.13h-3.07zM798.80 953.10h6.15v3.13h-6.15zM715.79 956.20h3.07v3.13h-3.07zM749.61 956.20h6.15v3.13h-6.15zM777.28 956.20h3.07v3.13h-3.07zM786.50 956.20h3.07v3.13h-3.07zM798.80 956.20h6.15v3.13h-6.15zM712.71 959.29h3.07v3.13h-3.07zM746.53 959.29h3.07v3.13h-3.07zM752.68 959.29h3.07v3.13h-3.07zM777.28 959.29h3.07v3.13h-3.07zM786.50 959.29h3.07v3.13h-3.07zM795.72 959.29h6.15v3.13h-6.15zM706.57 962.39h86.08v3.13h-86.08zM795.72 962.39h6.15v3.13h-6.15zM703.49 965.49h3.07v3.13h-3.07zM712.71 965.49h3.07v3.13h-3.07zM746.53 965.49h6.15v3.13h-6.15zM771.13 965.49h15.37v3.13h-15.37zM795.72 965.49h6.15v3.13h-6.15zM703.49 968.58h3.07v3.13h-3.07zM709.64 968.58h3.07v3.13h-3.07zM743.46 968.58h3.07v3.13h-3.07zM749.61 968.58h3.07v3.13h-3.07zM758.83 968.58h12.30v3.13h-12.30zM774.20 968.58h3.07v3.13h-3.07zM783.43 968.58h3.07v3.13h-3.07zM792.65 968.58h6.15v3.13h-6.15zM700.42 971.68h3.07v3.13h-3.07zM709.64 971.68h3.07v3.13h-3.07zM743.46 971.68h15.37v3.13h-15.37zM774.20 971.68h3.07v3.13h-3.07zM780.35 971.68h3.07v3.13h-3.07zM792.65 971.68h6.15v3.13h-6.15zM700.42 974.78h3.07v3.13h-3.07zM706.57 974.78h3.07v3.13h-3.07zM734.24 974.78h15.37v3.13h-15.37zM771.13 974.78h3.07v3.13h-3.07zM780.35 974.78h3.07v3.13h-3.07zM792.65 974.78h6.15v3.13h-6.15zM697.34 977.87h3.07v3.13h-3.07zM706.57 977.87h3.07v3.13h-3.07zM721.94 977.87h12.30v3.13h-12.30zM740.38 977.87h3.07v3.13h-3.07zM746.53 977.87h3.07v3.13h-3.07zM771.13 977.87h3.07v3.13h-3.07zM780.35 977.87h3.07v3.13h-3.07zM789.57 977.87h6.15v3.13h-6.15zM697.34 980.97h3.07v3.13h-3.07zM706.57 980.97h15.37v3.13h-15.37zM740.38 980.97h3.07v3.13h-3.07zM746.53 980.97h3.07v3.13h-3.07zM771.13 980.97h3.07v3.13h-3.07zM777.28 980.97h3.07v3.13h-3.07zM789.57 980.97h6.15v3.13h-6.15zM694.27 984.07h15.37v3.13h-15.37zM740.38 984.07h6.15v3.13h-6.15zM771.13 984.07h3.07v3.13h-3.07zM777.28 984.07h3.07v3.13h-3.07zM789.57 984.07h6.15v3.13h-6.15zM685.04 987.16h12.30v3.13h-12.30zM703.49 987.16h3.07v3.13h-3.07zM737.31 987.16h3.07v3.13h-3.07zM743.46 987.16h3.07v3.13h-3.07zM768.05 987.16h3.07v3.13h-3.07zM777.28 987.16h3.07v3.13h-3.07zM789.57 987.16h6.15v3.13h-6.15zM672.75 990.26h12.30v3.13h-12.30zM691.19 990.26h3.07v3.13h-3.07zM703.49 990.26h3.07v3.13h-3.07zM737.31 990.26h3.07v3.13h-3.07zM743.46 990.26h3.07v3.13h-3.07zM768.05 990.26h3.07v3.13h-3.07zM774.20 990.26h3.07v3.13h-3.07zM786.50 990.26h6.15v3.13h-6.15zM660.45 993.36h12.30v3.13h-12.30zM691.19 993.36h3.07v3.13h-3.07zM700.42 993.36h3.07v3.13h-3.07zM737.31 993.36h6.15v3.13h-6.15zM768.05 993.36h3.07v3.13h-3.07zM774.20 993.36h3.07v3.13h-3.07zM786.50 993.36h6.15v3.13h-6.15zM648.15 996.46h12.30v3.13h-12.30zM688.12 996.46h3.07v3.13h-3.07zM700.42 996.46h3.07v3.13h-3.07zM734.24 996.46h3.07v3.13h-3.07zM740.38 996.46h3.07v3.13h-3.07zM764.98 996.46h3.07v3.13h-3.07zM774.20 996.46h3.07v3.13h-3.07zM786.50 996.46h6.15v3.13h-6.15zM635.85 999.55h12.30v3.13h-12.30zM688.12 999.55h3.07v3.13h-3.07zM700.42 999.55h3.07v3.13h-3.07zM734.24 999.55h3.07v3.13h-3.07zM740.38 999.55h3.07v3.13h-3.07zM764.98 999.55h3.07v3.13h-3.07zM771.13 999.55h3.07v3.13h-3.07zM783.43 999.55h6.15v3.13h-6.15zM626.63 1002.65h9.22v3.13h-9.22zM685.04 1002.65h3.07v3.13h-3.07zM700.42 1002.65h3.07v3.13h-3.07zM734.24 1002.65h6.15v3.13h-6.15zM764.98 1002.65h3.07v3.13h-3.07zM771.13 1002.65h3.07v3.13h-3.07zM783.43 1002.65h6.15v3.13h-6.15zM685.04 1005.75h3.07v3.13h-3.07zM697.34 1005.75h3.07v3.13h-3.07zM731.16 1005.75h3.07v3.13h-3.07zM737.31 1005.75h3.07v3.13h-3.07zM764.98 1005.75h3.07v3.13h-3.07zM771.13 1005.75h3.07v3.13h-3.07zM783.43 1005.75h6.15v3.13h-6.15zM681.97 1008.84h3.07v3.13h-3.07zM697.34 1008.84h3.07v3.13h-3.07zM731.16 1008.84h3.07v3.13h-3.07zM737.31 1008.84h3.07v3.13h-3.07zM761.90 1008.84h3.07v3.13h-3.07zM771.13 1008.84h3.07v3.13h-3.07zM780.35 1008.84h6.15v3.13h-6.15zM681.97 1011.94h3.07v3.13h-3.07zM697.34 1011.94h3.07v3.13h-3.07zM728.09 1011.94h3.07v3.13h-3.07zM734.24 1011.94h3.07v3.13h-3.07zM761.90 1011.94h3.07v3.13h-3.07zM768.05 1011.94h3.07v3.13h-3.07zM780.35 1011.94h6.15v3.13h-6.15zM678.90 1015.04h3.07v3.13h-3.07zM697.34 1015.04h3.07v3.13h-3.07zM728.09 1015.04h3.07v3.13h-3.07zM734.24 1015.04h3.07v3.13h-3.07zM761.90 1015.04h3.07v3.13h-3.07zM768.05 1015.04h3.07v3.13h-3.07zM780.35 1015.04h6.15v3.13h-6.15zM678.90 1018.13h3.07v3.13h-3.07zM694.27 1018.13h3.07v3.13h-3.07zM728.09 1018.13h3.07v3.13h-3.07zM734.24 1018.13h3.07v3.13h-3.07zM761.90 1018.13h3.07v3.13h-3.07zM768.05 1018.13h3.07v3.13h-3.07zM780.35 1018.13h6.15v3.13h-6.15zM675.82 1021.23h3.07v3.13h-3.07zM694.27 1021.23h3.07v3.13h-3.07zM725.01 1021.23h3.07v3.13h-3.07zM731.16 1021.23h3.07v3.13h-3.07zM758.83 1021.23h3.07v3.13h-3.07zM764.98 1021.23h3.07v3.13h-3.07zM777.28 1021.23h6.15v3.13h-6.15zM675.82 1024.33h3.07v3.13h-3.07zM694.27 1024.33h3.07v3.13h-3.07zM725.01 1024.33h3.07v3.13h-3.07zM731.16 1024.33h3.07v3.13h-3.07zM758.83 1024.33h3.07v3.13h-3.07zM764.98 1024.33h3.07v3.13h-3.07zM777.28 1024.33h6.15v3.13h-6.15zM672.75 1027.42h3.07v3.13h-3.07zM691.19 1027.42h3.07v3.13h-3.07zM725.01 1027.42h6.15v3.13h-6.15zM758.83 1027.42h3.07v3.13h-3.07zM764.98 1027.42h3.07v3.13h-3.07zM777.28 1027.42h6.15v3.13h-6.15zM672.75 1030.52h3.07v3.13h-3.07zM691.19 1030.52h3.07v3.13h-3.07zM721.94 1030.52h3.07v3.13h-3.07zM728.09 1030.52h3.07v3.13h-3.07zM755.76 1030.52h3.07v3.13h-3.07zM761.90 1030.52h3.07v3.13h-3.07zM774.20 1030.52h6.15v3.13h-6.15zM669.67 1033.62h3.07v3.13h-3.07zM688.12 1033.62h3.07v3.13h-3.07zM721.94 1033.62h3.07v3.13h-3.07zM728.09 1033.62h3.07v3.13h-3.07zM755.76 1033.62h3.07v3.13h-3.07zM761.90 1033.62h3.07v3.13h-3.07zM774.20 1033.62h6.15v3.13h-6.15zM669.67 1036.71h3.07v3.13h-3.07zM688.12 1036.71h3.07v3.13h-3.07zM721.94 1036.71h6.15v3.13h-6.15zM755.76 1036.71h3.07v3.13h-3.07zM761.90 1036.71h3.07v3.13h-3.07zM774.20 1036.71h6.15v3.13h-6.15zM666.60 1039.81h3.07v3.13h-3.07zM688.12 1039.81h3.07v3.13h-3.07zM718.86 1039.81h3.07v3.13h-3.07zM725.01 1039.81h3.07v3.13h-3.07zM755.76 1039.81h6.15v3.13h-6.15zM771.13 1039.81h6.15v3.13h-6.15zM666.60 1042.91h3.07v3.13h-3.07zM685.04 1042.91h3.07v3.13h-3.07zM718.86 1042.91h3.07v3.13h-3.07zM725.01 1042.91h3.07v3.13h-3.07zM752.68 1042.91h3.07v3.13h-3.07zM758.83 1042.91h3.07v3.13h-3.07zM771.13 1042.91h6.15v3.13h-6.15zM663.52 1046.00h3.07v3.13h-3.07zM685.04 1046.00h3.07v3.13h-3.07zM718.86 1046.00h6.15v3.13h-6.15zM752.68 1046.00h3.07v3.13h-3.07zM758.83 1046.00h3.07v3.13h-3.07zM771.13 1046.00h6.15v3.13h-6.15zM663.52 1049.10h3.07v3.13h-3.07zM685.04 1049.10h3.07v3.13h-3.07zM715.79 1049.10h3.07v3.13h-3.07zM721.94 1049.10h3.07v3.13h-3.07zM752.68 1049.10h6.15v3.13h-6.15zM771.13 1049.10h6.15v3.13h-6.15zM663.52 1052.20h6.15v3.13h-6.15zM681.97 1052.20h3.07v3.13h-3.07zM715.79 1052.20h3.07v3.13h-3.07zM721.94 1052.20h3.07v3.13h-3.07zM749.61 1052.20h3.07v3.13h-3.07zM755.76 1052.20h3.07v3.13h-3.07zM768.05 1052.20h6.15v3.13h-6.15zM660.45 1055.29h3.07v3.13h-3.07zM669.67 1055.29h3.07v3.13h-3.07zM681.97 1055.29h3.07v3.13h-3.07zM715.79 1055.29h6.15v3.13h-6.15zM749.61 1055.29h3.07v3.13h-3.07zM755.76 1055.29h3.07v3.13h-3.07zM768.05 1055.29h6.15v3.13h-6.15zM657.38 1058.39h6.15v3.13h-6.15zM672.75 1058.39h3.07v3.13h-3.07zM678.90 1058.39h3.07v3.13h-3.07zM712.71 1058.39h3.07v3.13h-3.07zM718.86 1058.39h3.07v3.13h-3.07zM749.61 1058.39h3.07v3.13h-3.07zM755.76 1058.39h3.07v3.13h-3.07zM768.05 1058.39h6.15v3.13h-6.15zM654.30 1061.49h6.15v3.13h-6.15zM675.82 1061.49h6.15v3.13h-6.15zM712.71 1061.49h3.07v3.13h-3.07zM718.86 1061.49h3.07v3.13h-3.07zM749.61 1061.49h6.15v3.13h-6.15zM764.98 1061.49h6.15v3.13h-6.15zM648.15 1064.58h6.15v3.13h-6.15zM657.38 1064.58h3.07v3.13h-3.07zM678.90 1064.58h6.15v3.13h-6.15zM709.64 1064.58h3.07v3.13h-3.07zM715.79 1064.58h3.07v3.13h-3.07zM746.53 1064.58h3.07v3.13h-3.07zM752.68 1064.58h3.07v3.13h-3.07zM764.98 1064.58h6.15v3.13h-6.15zM645.08 1067.68h3.07v3.13h-3.07zM654.30 1067.68h3.07v3.13h-3.07zM675.82 1067.68h3.07v3.13h-3.07zM685.04 1067.68h3.07v3.13h-3.07zM709.64 1067.68h3.07v3.13h-3.07zM715.79 1067.68h3.07v3.13h-3.07zM746.53 1067.68h3.07v3.13h-3.07zM752.68 1067.68h3.07v3.13h-3.07zM764.98 1067.68h6.15v3.13h-6.15zM642.00 1070.78h3.07v3.13h-3.07zM654.30 1070.78h3.07v3.13h-3.07zM675.82 1070.78h3.07v3.13h-3.07zM688.12 1070.78h3.07v3.13h-3.07zM709.64 1070.78h3.07v3.13h-3.07zM715.79 1070.78h3.07v3.13h-3.07zM746.53 1070.78h6.15v3.13h-6.15zM761.90 1070.78h6.15v3.13h-6.15zM638.93 1073.87h3.07v3.13h-3.07zM654.30 1073.87h3.07v3.13h-3.07zM675.82 1073.87h3.07v3.13h-3.07zM691.19 1073.87h3.07v3.13h-3.07zM706.57 1073.87h3.07v3.13h-3.07zM712.71 1073.87h3.07v3.13h-3.07zM746.53 1073.87h6.15v3.13h-6.15zM761.90 1073.87h6.15v3.13h-6.15zM632.78 1076.97h6.15v3.13h-6.15zM651.23 1076.97h3.07v3.13h-3.07zM672.75 1076.97h3.07v3.13h-3.07zM694.27 1076.97h6.15v3.13h-6.15zM706.57 1076.97h3.07v3.13h-3.07zM712.71 1076.97h3.07v3.13h-3.07zM743.46 1076.97h3.07v3.13h-3.07zM749.61 1076.97h3.07v3.13h-3.07zM761.90 1076.97h6.15v3.13h-6.15zM626.63 1080.07h6.15v3.13h-6.15zM651.23 1080.07h3.07v3.13h-3.07zM672.75 1080.07h3.07v3.13h-3.07zM700.42 1080.07h3.07v3.13h-3.07zM706.57 1080.07h3.07v3.13h-3.07zM712.71 1080.07h3.07v3.13h-3.07zM743.46 1080.07h6.15v3.13h-6.15zM761.90 1080.07h6.15v3.13h-6.15zM623.56 1083.16h3.07v3.13h-3.07zM648.15 1083.16h3.07v3.13h-3.07zM672.75 1083.16h3.07v3.13h-3.07zM703.49 1083.16h49.19v3.13h-49.19zM758.83 1083.16h6.15v3.13h-6.15zM620.48 1086.26h3.07v3.13h-3.07zM648.15 1086.26h3.07v3.13h-3.07zM669.67 1086.26h3.07v3.13h-3.07zM703.49 1086.26h3.07v3.13h-3.07zM709.64 1086.26h3.07v3.13h-3.07zM734.24 1086.26h12.30v3.13h-12.30zM749.61 1086.26h3.07v3.13h-3.07zM758.83 1086.26h6.15v3.13h-6.15zM620.48 1089.36h3.07v3.13h-3.07zM648.15 1089.36h3.07v3.13h-3.07zM669.67 1089.36h3.07v3.13h-3.07zM703.49 1089.36h6.15v3.13h-6.15zM721.94 1089.36h12.30v3.13h-12.30zM746.53 1089.36h3.07v3.13h-3.07zM758.83 1089.36h6.15v3.13h-6.15zM617.41 1092.45h3.07v3.13h-3.07zM645.08 1092.45h3.07v3.13h-3.07zM669.67 1092.45h3.07v3.13h-3.07zM700.42 1092.45h21.52v3.13h-21.52zM746.53 1092.45h3.07v3.13h-3.07zM755.76 1092.45h6.15v3.13h-6.15zM617.41 1095.55h3.07v3.13h-3.07zM645.08 1095.55h3.07v3.13h-3.07zM669.67 1095.55h3.07v3.13h-3.07zM697.34 1095.55h12.30v3.13h-12.30zM743.46 1095.55h3.07v3.13h-3.07zM755.76 1095.55h6.15v3.13h-6.15zM614.33 1098.65h3.07v3.13h-3.07zM645.08 1098.65h3.07v3.13h-3.07zM666.60 1098.65h3.07v3.13h-3.07zM685.04 1098.65h15.37v3.13h-15.37zM703.49 1098.65h3.07v3.13h-3.07zM743.46 1098.65h3.07v3.13h-3.07zM755.76 1098.65h6.15v3.13h-6.15zM614.33 1101.74h3.07v3.13h-3.07zM645.08 1101.74h3.07v3.13h-3.07zM666.60 1101.74h3.07v3.13h-3.07zM672.75 1101.74h12.30v3.13h-12.30zM697.34 1101.74h6.15v3.13h-6.15zM740.38 1101.74h3.07v3.13h-3.07zM752.68 1101.74h6.15v3.13h-6.15zM611.26 1104.84h3.07v3.13h-3.07zM642.00 1104.84h3.07v3.13h-3.07zM663.52 1104.84h9.22v3.13h-9.22zM694.27 1104.84h3.07v3.13h-3.07zM700.42 1104.84h3.07v3.13h-3.07zM740.38 1104.84h3.07v3.13h-3.07zM752.68 1104.84h6.15v3.13h-6.15zM611.26 1107.94h3.07v3.13h-3.07zM642.00 1107.94h3.07v3.13h-3.07zM651.23 1107.94h15.37v3.13h-15.37zM694.27 1107.94h6.15v3.13h-6.15zM737.31 1107.94h3.07v3.13h-3.07zM752.68 1107.94h6.15v3.13h-6.15zM611.26 1111.03h3.07v3.13h-3.07zM638.93 1111.03h12.30v3.13h-12.30zM663.52 1111.03h3.07v3.13h-3.07zM691.19 1111.03h3.07v3.13h-3.07zM697.34 1111.03h3.07v3.13h-3.07zM737.31 1111.03h3.07v3.13h-3.07zM752.68 1111.03h6.15v3.13h-6.15zM608.18 1114.13h3.07v3.13h-3.07zM626.63 1114.13h15.37v3.13h-15.37zM660.45 1114.13h3.07v3.13h-3.07zM691.19 1114.13h3.07v3.13h-3.07zM697.34 1114.13h3.07v3.13h-3.07zM734.24 1114.13h3.07v3.13h-3.07zM749.61 1114.13h6.15v3.13h-6.15zM608.18 1117.23h3.07v3.13h-3.07zM614.33 1117.23h12.30v3.13h-12.30zM638.93 1117.23h3.07v3.13h-3.07zM660.45 1117.23h3.07v3.13h-3.07zM688.12 1117.23h3.07v3.13h-3.07zM694.27 1117.23h3.07v3.13h-3.07zM734.24 1117.23h3.07v3.13h-3.07zM749.61 1117.23h6.15v3.13h-6.15zM602.04 1120.32h12.30v3.13h-12.30zM638.93 1120.32h3.07v3.13h-3.07zM657.38 1120.32h3.07v3.13h-3.07zM688.12 1120.32h3.07v3.13h-3.07zM694.27 1120.32h3.07v3.13h-3.07zM731.16 1120.32h3.07v3.13h-3.07zM749.61 1120.32h6.15v3.13h-6.15zM589.74 1123.42h12.30v3.13h-12.30zM605.11 1123.42h3.07v3.13h-3.07zM635.85 1123.42h3.07v3.13h-3.07zM657.38 1123.42h3.07v3.13h-3.07zM685.04 1123.42h3.07v3.13h-3.07zM691.19 1123.42h3.07v3.13h-3.07zM731.16 1123.42h3.07v3.13h-3.07zM746.53 1123.42h6.15v3.13h-6.15zM583.59 1126.52h6.15v3.13h-6.15zM602.04 1126.52h3.07v3.13h-3.07zM635.85 1126.52h3.07v3.13h-3.07zM654.30 1126.52h3.07v3.13h-3.07zM685.04 1126.52h3.07v3.13h-3.07zM691.19 1126.52h3.07v3.13h-3.07zM728.09 1126.52h3.07v3.13h-3.07zM746.53 1126.52h6.15v3.13h-6.15zM602.04 1129.61h3.07v3.13h-3.07zM635.85 1129.61h3.07v3.13h-3.07zM654.30 1129.61h3.07v3.13h-3.07zM681.97 1129.61h3.07v3.13h-3.07zM691.19 1129.61h3.07v3.13h-3.07zM728.09 1129.61h3.07v3.13h-3.07zM746.53 1129.61h6.15v3.13h-6.15zM598.96 1132.71h3.07v3.13h-3.07zM635.85 1132.71h3.07v3.13h-3.07zM651.23 1132.71h3.07v3.13h-3.07zM681.97 1132.71h3.07v3.13h-3.07zM688.12 1132.71h3.07v3.13h-3.07zM725.01 1132.71h3.07v3.13h-3.07zM743.46 1132.71h6.15v3.13h-6.15zM598.96 1135.81h3.07v3.13h-3.07zM632.78 1135.81h3.07v3.13h-3.07zM651.23 1135.81h3.07v3.13h-3.07zM678.90 1135.81h3.07v3.13h-3.07zM688.12 1135.81h3.07v3.13h-3.07zM725.01 1135.81h3.07v3.13h-3.07zM743.46 1135.81h6.15v3.13h-6.15zM595.89 1138.90h3.07v3.13h-3.07zM632.78 1138.90h3.07v3.13h-3.07zM648.15 1138.90h3.07v3.13h-3.07zM678.90 1138.90h3.07v3.13h-3.07zM688.12 1138.90h3.07v3.13h-3.07zM721.94 1138.90h3.07v3.13h-3.07zM743.46 1138.90h6.15v3.13h-6.15zM595.89 1142.00h3.07v3.13h-3.07zM632.78 1142.00h3.07v3.13h-3.07zM648.15 1142.00h3.07v3.13h-3.07zM675.82 1142.00h3.07v3.13h-3.07zM685.04 1142.00h3.07v3.13h-3.07zM721.94 1142.00h3.07v3.13h-3.07zM743.46 1142.00h6.15v3.13h-6.15zM592.81 1145.10h3.07v3.13h-3.07zM629.71 1145.10h3.07v3.13h-3.07zM645.08 1145.10h3.07v3.13h-3.07zM675.82 1145.10h3.07v3.13h-3.07zM685.04 1145.10h3.07v3.13h-3.07zM718.86 1145.10h3.07v3.13h-3.07zM740.38 1145.10h6.15v3.13h-6.15zM592.81 1148.19h3.07v3.13h-3.07zM629.71 1148.19h3.07v3.13h-3.07zM645.08 1148.19h3.07v3.13h-3.07zM672.75 1148.19h3.07v3.13h-3.07zM681.97 1148.19h3.07v3.13h-3.07zM718.86 1148.19h3.07v3.13h-3.07zM740.38 1148.19h6.15v3.13h-6.15zM589.74 1151.29h3.07v3.13h-3.07zM629.71 1151.29h3.07v3.13h-3.07zM645.08 1151.29h3.07v3.13h-3.07zM672.75 1151.29h3.07v3.13h-3.07zM681.97 1151.29h3.07v3.13h-3.07zM715.79 1151.29h3.07v3.13h-3.07zM740.38 1151.29h6.15v3.13h-6.15zM589.74 1154.39h3.07v3.13h-3.07zM626.63 1154.39h3.07v3.13h-3.07zM642.00 1154.39h3.07v3.13h-3.07zM669.67 1154.39h3.07v3.13h-3.07zM678.90 1154.39h3.07v3.13h-3.07zM715.79 1154.39h3.07v3.13h-3.07zM737.31 1154.39h6.15v3.13h-6.15zM586.66 1157.48h3.07v3.13h-3.07zM626.63 1157.48h3.07v3.13h-3.07zM642.00 1157.48h3.07v3.13h-3.07zM669.67 1157.48h3.07v3.13h-3.07zM678.90 1157.48h3.07v3.13h-3.07zM712.71 1157.48h3.07v3.13h-3.07zM737.31 1157.48h6.15v3.13h-6.15zM586.66 1160.58h3.07v3.13h-3.07zM626.63 1160.58h3.07v3.13h-3.07zM638.93 1160.58h3.07v3.13h-3.07zM666.60 1160.58h3.07v3.13h-3.07zM675.82 1160.58h3.07v3.13h-3.07zM712.71 1160.58h3.07v3.13h-3.07zM737.31 1160.58h6.15v3.13h-6.15zM583.59 1163.68h3.07v3.13h-3.07zM626.63 1163.68h3.07v3.13h-3.07zM638.93 1163.68h3.07v3.13h-3.07zM666.60 1163.68h3.07v3.13h-3.07zM675.82 1163.68h3.07v3.13h-3.07zM709.64 1163.68h3.07v3.13h-3.07zM734.24 1163.68h6.15v3.13h-6.15zM583.59 1166.77h3.07v3.13h-3.07zM623.56 1166.77h3.07v3.13h-3.07zM635.85 1166.77h3.07v3.13h-3.07zM663.52 1166.77h3.07v3.13h-3.07zM672.75 1166.77h3.07v3.13h-3.07zM709.64 1166.77h3.07v3.13h-3.07zM734.24 1166.77h6.15v3.13h-6.15zM531.32 1169.87h178.32v3.13h-178.32zM734.24 1169.87h6.15v3.13h-6.15zM525.18 1172.97h12.30v3.13h-12.30zM565.14 1172.97h12.30v3.13h-12.30zM608.18 1172.97h12.30v3.13h-12.30zM632.78 1172.97h3.07v3.13h-3.07zM648.15 1172.97h12.30v3.13h-12.30zM666.60 1172.97h3.07v3.13h-3.07zM688.12 1172.97h12.30v3.13h-12.30zM734.24 1172.97h6.15v3.13h-6.15zM512.88 1176.06h12.30v3.13h-12.30zM552.85 1176.06h12.30v3.13h-12.30zM595.89 1176.06h12.30v3.13h-12.30zM629.71 1176.06h3.07v3.13h-3.07zM635.85 1176.06h12.30v3.13h-12.30zM666.60 1176.06h3.07v3.13h-3.07zM675.82 1176.06h12.30v3.13h-12.30zM731.16 1176.06h6.15v3.13h-6.15zM494.43 1179.16h181.39v3.13h-181.39zM731.16 1179.16h6.15v3.13h-6.15zM488.28 1182.26h12.30v3.13h-12.30zM528.25 1182.26h12.30v3.13h-12.30zM568.22 1182.26h15.37v3.13h-15.37zM608.18 1182.26h15.37v3.13h-15.37zM629.71 1182.26h3.07v3.13h-3.07zM651.23 1182.26h12.30v3.13h-12.30zM731.16 1182.26h6.15v3.13h-6.15zM475.99 1185.35h12.30v3.13h-12.30zM515.95 1185.35h12.30v3.13h-12.30zM555.92 1185.35h12.30v3.13h-12.30zM595.89 1185.35h12.30v3.13h-12.30zM626.63 1185.35h3.07v3.13h-3.07zM638.93 1185.35h12.30v3.13h-12.30zM728.09 1185.35h6.15v3.13h-6.15zM463.69 1188.45h12.30v3.13h-12.30zM500.58 1188.45h15.37v3.13h-15.37zM543.62 1188.45h12.30v3.13h-12.30zM583.59 1188.45h12.30v3.13h-12.30zM623.56 1188.45h15.37v3.13h-15.37zM728.09 1188.45h6.15v3.13h-6.15zM448.32 1191.55h178.32v3.13h-178.32zM728.09 1191.55h6.15v3.13h-6.15zM439.09 1194.64h12.30v3.13h-12.30zM475.99 1194.64h12.30v3.13h-12.30zM519.03 1194.64h12.30v3.13h-12.30zM558.99 1194.64h12.30v3.13h-12.30zM598.96 1194.64h12.30v3.13h-12.30zM725.01 1194.64h6.15v3.13h-6.15zM426.80 1197.74h12.30v3.13h-12.30zM463.69 1197.74h12.30v3.13h-12.30zM503.66 1197.74h15.37v3.13h-15.37zM543.62 1197.74h15.37v3.13h-15.37zM586.66 1197.74h12.30v3.13h-12.30zM725.01 1197.74h6.15v3.13h-6.15zM414.50 1200.84h12.30v3.13h-12.30zM451.39 1200.84h12.30v3.13h-12.30zM491.36 1200.84h12.30v3.13h-12.30zM531.32 1200.84h12.30v3.13h-12.30zM574.37 1200.84h12.30v3.13h-12.30zM725.01 1200.84h6.15v3.13h-6.15zM402.20 1203.93h12.30v3.13h-12.30zM439.09 1203.93h12.30v3.13h-12.30zM479.06 1203.93h12.30v3.13h-12.30zM519.03 1203.93h12.30v3.13h-12.30zM562.07 1203.93h12.30v3.13h-12.30zM725.01 1203.93h6.15v3.13h-6.15zM389.90 1207.03h12.30v3.13h-12.30zM426.80 1207.03h12.30v3.13h-12.30zM466.76 1207.03h12.30v3.13h-12.30zM506.73 1207.03h12.30v3.13h-12.30zM549.77 1207.03h12.30v3.13h-12.30zM721.94 1207.03h6.15v3.13h-6.15zM377.60 1210.13h12.30v3.13h-12.30zM417.57 1210.13h9.22v3.13h-9.22zM457.54 1210.13h9.22v3.13h-9.22zM497.51 1210.13h9.22v3.13h-9.22zM540.55 1210.13h9.22v3.13h-9.22zM721.94 1210.13h6.15v3.13h-6.15zM365.31 1213.22h12.30v3.13h-12.30zM414.50 1213.22h3.07v3.13h-3.07zM454.46 1213.22h3.07v3.13h-3.07zM494.43 1213.22h3.07v3.13h-3.07zM537.47 1213.22h3.07v3.13h-3.07zM721.94 1213.22h6.15v3.13h-6.15zM353.01 1216.32h12.30v3.13h-12.30zM718.86 1216.32h6.15v3.13h-6.15zM340.71 1219.42h12.30v3.13h-12.30zM718.86 1219.42h6.15v3.13h-6.15zM328.41 1222.51h12.30v3.13h-12.30zM718.86 1222.51h6.15v3.13h-6.15zM316.12 1225.61h12.30v3.13h-12.30zM715.79 1225.61h6.15v3.13h-6.15zM303.82 1228.71h12.30v3.13h-12.30zM715.79 1228.71h6.15v3.13h-6.15zM294.60 1231.80h9.22v3.13h-9.22zM715.79 1231.80h6.15v3.13h-6.15zM291.52 1234.90h3.07v3.13h-3.07zM715.79 1234.90h6.15v3.13h-6.15zM712.71 1238.00h6.15v3.13h-6.15zM712.71 1241.09h6.15v3.13h-6.15zM712.71 1244.19h6.15v3.13h-6.15zM709.64 1247.29h6.15v3.13h-6.15zM709.64 1250.38h6.15v3.13h-6.15zM709.64 1253.48h6.15v3.13h-6.15zM706.57 1256.58h6.15v3.13h-6.15zM706.57 1259.67h6.15v3.13h-6.15zM706.57 1262.77h6.15v3.13h-6.15zM706.57 1265.87h6.15v3.13h-6.15zM703.49 1268.96h6.15v3.13h-6.15zM703.49 1272.06h6.15v3.13h-6.15zM703.49 1275.16h6.15v3.13h-6.15zM700.42 1278.25h6.15v3.13h-6.15zM700.42 1281.35h6.15v3.13h-6.15zM700.42 1284.45h6.15v3.13h-6.15zM697.34 1287.54h6.15v3.13h-6.15zM697.34 1290.64h6.15v3.13h-6.15zM697.34 1293.74h6.15v3.13h-6.15zM697.34 1296.83h6.15v3.13h-6.15zM694.27 1299.93h6.15v3.13h-6.15zM694.27 1303.03h6.15v3.13h-6.15zM694.27 1306.13h6.15v3.13h-6.15zM691.19 1309.22h6.15v3.13h-6.15zM691.19 1312.32h6.15v3.13h-6.15z"/>
</g>
<g id="labels">
<text font-size="76.6" transform="translate(0,86.00) scale(0.935,1)" x="104.42 143.26 167.33" y="0.00 0.00 0.00">1.5</text>
<text font-size="76.6" transform="translate(0,302.70) scale(0.935,1)" x="169.72" y="0.00">1</text>
<text font-size="76.6" transform="translate(0,519.60) scale(0.935,1)" x="101.48 143.26 167.33" y="0.00 0.00 0.00">0.5</text>
<text font-size="76.6" transform="translate(0,739.40) scale(0.935,1)" x="167.31" y="0.00">0</text>
<text font-size="76.6" transform="translate(0,956.10) scale(0.935,1)" x="73.77 101.48 143.26 167.33" y="1.20 0.00 0.00 0.00">-0.5</text>
<text font-size="76.6" transform="translate(0,1173.00) scale(0.935,1)" x="139.55 169.72" y="1.20 0.00">-1</text>
<text font-size="76.6" transform="translate(0,1389.70) scale(0.935,1)" x="73.77 104.42 143.26 167.33" y="1.20 0.00 0.00 0.00">-1.5</text>
<text font-size="76.6" transform="translate(0,1445.40) scale(0.935,1)" x="175.64 203.54" y="1.20 0.00">-4</text>
<text font-size="76.6" transform="translate(0,1445.40) scale(0.935,1)" x="530.67 558.33" y="1.20 0.00">-2</text>
<text font-size="76.6" transform="translate(0,1445.40) scale(0.935,1)" x="913.62" y="0.00">0</text>
<text font-size="76.6" transform="translate(0,1445.40) scale(0.935,1)" x="1265.49" y="0.00">2</text>
<text font-size="76.6" transform="translate(0,1445.40) scale(0.935,1)" x="1620.65" y="0.00">4</text>
<text font-size="67.7" transform="translate(0,200.60) scale(0.86,1)" x="346.01 394.47 429.78 472.05 511.93 533.44" y="0.00 8.40 0.00 0.00 0.00 0.00">K<tspan font-size="62">c</tspan>=0.1</text>
<text font-size="67.7" transform="translate(0,147.70) scale(0.86,1)" x="1061.19 1109.65" y="0.00 24.90">KM</text>
<text font-size="67.7" transform="translate(0,640.30) scale(0.86,1)" x="1579.33 1626.91" y="0.00 18.60">K<tspan font-size="66">m</tspan></text>
<text font-size="76.6" transform="translate(0,1529.10) scale(0.935,1)" x="881.05 927.56 952.77" y="0.00 18.60 18.60">xt1</text>
<text font-size="76.6" transform="translate(826.62,1500.83) scale(0.8084,1.3263)">~</text>
<g transform="translate(0,761) rotate(-90)"><text font-size="76.6" transform="translate(0,85.70) scale(0.97,0.934)" x="-2.97 42.39 57.76 101.11" y="0.00 0.00 19.59 15.74">did<tspan font-size="66">c</tspan></text></g>
</g>
</svg></body></html>
